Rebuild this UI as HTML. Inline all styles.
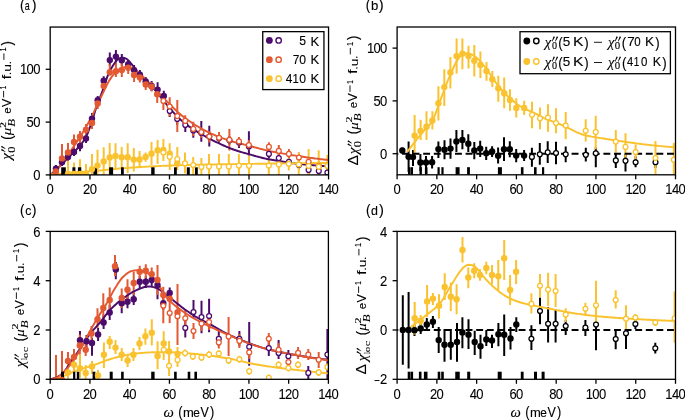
<!DOCTYPE html><html><head><meta charset="utf-8"><style>html,body{margin:0;padding:0;background:#fff;overflow:hidden}svg{display:block}#w{width:685px;height:420px}svg{will-change:transform}</style></head><body>
<div id="w">
<svg width="685" height="420" viewBox="0 0 685 420" font-family="Liberation Sans, sans-serif" fill="#000">
<defs>
<clipPath id="clipa"><rect x="50.20" y="27.05" width="278.35" height="147.85"/></clipPath>
<clipPath id="clipb"><rect x="397.10" y="27.00" width="278.40" height="147.80"/></clipPath>
<clipPath id="clipc"><rect x="50.20" y="231.40" width="278.20" height="147.90"/></clipPath>
<clipPath id="clipd"><rect x="397.10" y="231.40" width="278.40" height="147.90"/></clipPath>
</defs>
<line x1="50.20" y1="174.90" x2="50.20" y2="179.40" stroke="#000" stroke-width="1.3"/>
<text transform="translate(46.58,194.10) scale(0.930,1)" font-size="14.0" stroke="#000" stroke-width="0.1">0</text>
<line x1="89.96" y1="174.90" x2="89.96" y2="179.40" stroke="#000" stroke-width="1.3"/>
<text transform="translate(83.04,194.10) scale(0.930,1)" font-size="14.0" stroke="#000" stroke-width="0.1">2</text><text transform="translate(89.64,194.10) scale(0.930,1)" font-size="14.0" stroke="#000" stroke-width="0.1">0</text>
<line x1="129.73" y1="174.90" x2="129.73" y2="179.40" stroke="#000" stroke-width="1.3"/>
<text transform="translate(122.81,194.10) scale(0.930,1)" font-size="14.0" stroke="#000" stroke-width="0.1">4</text><text transform="translate(129.41,194.10) scale(0.930,1)" font-size="14.0" stroke="#000" stroke-width="0.1">0</text>
<line x1="169.49" y1="174.90" x2="169.49" y2="179.40" stroke="#000" stroke-width="1.3"/>
<text transform="translate(162.57,194.10) scale(0.930,1)" font-size="14.0" stroke="#000" stroke-width="0.1">6</text><text transform="translate(169.17,194.10) scale(0.930,1)" font-size="14.0" stroke="#000" stroke-width="0.1">0</text>
<line x1="209.26" y1="174.90" x2="209.26" y2="179.40" stroke="#000" stroke-width="1.3"/>
<text transform="translate(202.34,194.10) scale(0.930,1)" font-size="14.0" stroke="#000" stroke-width="0.1">8</text><text transform="translate(208.94,194.10) scale(0.930,1)" font-size="14.0" stroke="#000" stroke-width="0.1">0</text>
<line x1="249.02" y1="174.90" x2="249.02" y2="179.40" stroke="#000" stroke-width="1.3"/>
<text transform="translate(238.80,194.10) scale(0.930,1)" font-size="14.0" stroke="#000" stroke-width="0.1">1</text><text transform="translate(245.40,194.10) scale(0.930,1)" font-size="14.0" stroke="#000" stroke-width="0.1">0</text><text transform="translate(252.00,194.10) scale(0.930,1)" font-size="14.0" stroke="#000" stroke-width="0.1">0</text>
<line x1="288.79" y1="174.90" x2="288.79" y2="179.40" stroke="#000" stroke-width="1.3"/>
<text transform="translate(278.57,194.10) scale(0.930,1)" font-size="14.0" stroke="#000" stroke-width="0.1">1</text><text transform="translate(285.17,194.10) scale(0.930,1)" font-size="14.0" stroke="#000" stroke-width="0.1">2</text><text transform="translate(291.77,194.10) scale(0.930,1)" font-size="14.0" stroke="#000" stroke-width="0.1">0</text>
<line x1="328.55" y1="174.90" x2="328.55" y2="179.40" stroke="#000" stroke-width="1.3"/>
<text transform="translate(318.33,194.10) scale(0.930,1)" font-size="14.0" stroke="#000" stroke-width="0.1">1</text><text transform="translate(324.93,194.10) scale(0.930,1)" font-size="14.0" stroke="#000" stroke-width="0.1">4</text><text transform="translate(331.53,194.10) scale(0.930,1)" font-size="14.0" stroke="#000" stroke-width="0.1">0</text>
<line x1="45.70" y1="174.90" x2="50.20" y2="174.90" stroke="#000" stroke-width="1.3"/>
<text transform="translate(33.18,180.05) scale(0.930,1)" font-size="14.0" stroke="#000" stroke-width="0.1">0</text>
<line x1="45.70" y1="122.10" x2="50.20" y2="122.10" stroke="#000" stroke-width="1.3"/>
<text transform="translate(26.58,127.25) scale(0.930,1)" font-size="14.0" stroke="#000" stroke-width="0.1">5</text><text transform="translate(33.18,127.25) scale(0.930,1)" font-size="14.0" stroke="#000" stroke-width="0.1">0</text>
<line x1="45.70" y1="69.29" x2="50.20" y2="69.29" stroke="#000" stroke-width="1.3"/>
<text transform="translate(19.98,74.44) scale(0.930,1)" font-size="14.0" stroke="#000" stroke-width="0.1">1</text><text transform="translate(26.58,74.44) scale(0.930,1)" font-size="14.0" stroke="#000" stroke-width="0.1">0</text><text transform="translate(33.18,74.44) scale(0.930,1)" font-size="14.0" stroke="#000" stroke-width="0.1">0</text>
<line x1="397.10" y1="174.80" x2="397.10" y2="179.30" stroke="#000" stroke-width="1.3"/>
<text transform="translate(393.48,194.00) scale(0.930,1)" font-size="14.0" stroke="#000" stroke-width="0.1">0</text>
<line x1="436.87" y1="174.80" x2="436.87" y2="179.30" stroke="#000" stroke-width="1.3"/>
<text transform="translate(429.95,194.00) scale(0.930,1)" font-size="14.0" stroke="#000" stroke-width="0.1">2</text><text transform="translate(436.55,194.00) scale(0.930,1)" font-size="14.0" stroke="#000" stroke-width="0.1">0</text>
<line x1="476.64" y1="174.80" x2="476.64" y2="179.30" stroke="#000" stroke-width="1.3"/>
<text transform="translate(469.72,194.00) scale(0.930,1)" font-size="14.0" stroke="#000" stroke-width="0.1">4</text><text transform="translate(476.32,194.00) scale(0.930,1)" font-size="14.0" stroke="#000" stroke-width="0.1">0</text>
<line x1="516.41" y1="174.80" x2="516.41" y2="179.30" stroke="#000" stroke-width="1.3"/>
<text transform="translate(509.49,194.00) scale(0.930,1)" font-size="14.0" stroke="#000" stroke-width="0.1">6</text><text transform="translate(516.09,194.00) scale(0.930,1)" font-size="14.0" stroke="#000" stroke-width="0.1">0</text>
<line x1="556.19" y1="174.80" x2="556.19" y2="179.30" stroke="#000" stroke-width="1.3"/>
<text transform="translate(549.27,194.00) scale(0.930,1)" font-size="14.0" stroke="#000" stroke-width="0.1">8</text><text transform="translate(555.87,194.00) scale(0.930,1)" font-size="14.0" stroke="#000" stroke-width="0.1">0</text>
<line x1="595.96" y1="174.80" x2="595.96" y2="179.30" stroke="#000" stroke-width="1.3"/>
<text transform="translate(585.74,194.00) scale(0.930,1)" font-size="14.0" stroke="#000" stroke-width="0.1">1</text><text transform="translate(592.34,194.00) scale(0.930,1)" font-size="14.0" stroke="#000" stroke-width="0.1">0</text><text transform="translate(598.94,194.00) scale(0.930,1)" font-size="14.0" stroke="#000" stroke-width="0.1">0</text>
<line x1="635.73" y1="174.80" x2="635.73" y2="179.30" stroke="#000" stroke-width="1.3"/>
<text transform="translate(625.51,194.00) scale(0.930,1)" font-size="14.0" stroke="#000" stroke-width="0.1">1</text><text transform="translate(632.11,194.00) scale(0.930,1)" font-size="14.0" stroke="#000" stroke-width="0.1">2</text><text transform="translate(638.71,194.00) scale(0.930,1)" font-size="14.0" stroke="#000" stroke-width="0.1">0</text>
<line x1="675.50" y1="174.80" x2="675.50" y2="179.30" stroke="#000" stroke-width="1.3"/>
<text transform="translate(665.28,194.00) scale(0.930,1)" font-size="14.0" stroke="#000" stroke-width="0.1">1</text><text transform="translate(671.88,194.00) scale(0.930,1)" font-size="14.0" stroke="#000" stroke-width="0.1">4</text><text transform="translate(678.48,194.00) scale(0.930,1)" font-size="14.0" stroke="#000" stroke-width="0.1">0</text>
<line x1="392.60" y1="153.69" x2="397.10" y2="153.69" stroke="#000" stroke-width="1.3"/>
<text transform="translate(380.08,158.84) scale(0.930,1)" font-size="14.0" stroke="#000" stroke-width="0.1">0</text>
<line x1="392.60" y1="100.90" x2="397.10" y2="100.90" stroke="#000" stroke-width="1.3"/>
<text transform="translate(373.48,106.05) scale(0.930,1)" font-size="14.0" stroke="#000" stroke-width="0.1">5</text><text transform="translate(380.08,106.05) scale(0.930,1)" font-size="14.0" stroke="#000" stroke-width="0.1">0</text>
<line x1="392.60" y1="48.11" x2="397.10" y2="48.11" stroke="#000" stroke-width="1.3"/>
<text transform="translate(366.88,53.26) scale(0.930,1)" font-size="14.0" stroke="#000" stroke-width="0.1">1</text><text transform="translate(373.48,53.26) scale(0.930,1)" font-size="14.0" stroke="#000" stroke-width="0.1">0</text><text transform="translate(380.08,53.26) scale(0.930,1)" font-size="14.0" stroke="#000" stroke-width="0.1">0</text>
<line x1="50.20" y1="379.30" x2="50.20" y2="383.80" stroke="#000" stroke-width="1.3"/>
<text transform="translate(46.58,398.50) scale(0.930,1)" font-size="14.0" stroke="#000" stroke-width="0.1">0</text>
<line x1="89.94" y1="379.30" x2="89.94" y2="383.80" stroke="#000" stroke-width="1.3"/>
<text transform="translate(83.02,398.50) scale(0.930,1)" font-size="14.0" stroke="#000" stroke-width="0.1">2</text><text transform="translate(89.62,398.50) scale(0.930,1)" font-size="14.0" stroke="#000" stroke-width="0.1">0</text>
<line x1="129.69" y1="379.30" x2="129.69" y2="383.80" stroke="#000" stroke-width="1.3"/>
<text transform="translate(122.77,398.50) scale(0.930,1)" font-size="14.0" stroke="#000" stroke-width="0.1">4</text><text transform="translate(129.37,398.50) scale(0.930,1)" font-size="14.0" stroke="#000" stroke-width="0.1">0</text>
<line x1="169.43" y1="379.30" x2="169.43" y2="383.80" stroke="#000" stroke-width="1.3"/>
<text transform="translate(162.51,398.50) scale(0.930,1)" font-size="14.0" stroke="#000" stroke-width="0.1">6</text><text transform="translate(169.11,398.50) scale(0.930,1)" font-size="14.0" stroke="#000" stroke-width="0.1">0</text>
<line x1="209.17" y1="379.30" x2="209.17" y2="383.80" stroke="#000" stroke-width="1.3"/>
<text transform="translate(202.25,398.50) scale(0.930,1)" font-size="14.0" stroke="#000" stroke-width="0.1">8</text><text transform="translate(208.85,398.50) scale(0.930,1)" font-size="14.0" stroke="#000" stroke-width="0.1">0</text>
<line x1="248.91" y1="379.30" x2="248.91" y2="383.80" stroke="#000" stroke-width="1.3"/>
<text transform="translate(238.69,398.50) scale(0.930,1)" font-size="14.0" stroke="#000" stroke-width="0.1">1</text><text transform="translate(245.29,398.50) scale(0.930,1)" font-size="14.0" stroke="#000" stroke-width="0.1">0</text><text transform="translate(251.89,398.50) scale(0.930,1)" font-size="14.0" stroke="#000" stroke-width="0.1">0</text>
<line x1="288.66" y1="379.30" x2="288.66" y2="383.80" stroke="#000" stroke-width="1.3"/>
<text transform="translate(278.44,398.50) scale(0.930,1)" font-size="14.0" stroke="#000" stroke-width="0.1">1</text><text transform="translate(285.04,398.50) scale(0.930,1)" font-size="14.0" stroke="#000" stroke-width="0.1">2</text><text transform="translate(291.64,398.50) scale(0.930,1)" font-size="14.0" stroke="#000" stroke-width="0.1">0</text>
<line x1="328.40" y1="379.30" x2="328.40" y2="383.80" stroke="#000" stroke-width="1.3"/>
<text transform="translate(318.18,398.50) scale(0.930,1)" font-size="14.0" stroke="#000" stroke-width="0.1">1</text><text transform="translate(324.78,398.50) scale(0.930,1)" font-size="14.0" stroke="#000" stroke-width="0.1">4</text><text transform="translate(331.38,398.50) scale(0.930,1)" font-size="14.0" stroke="#000" stroke-width="0.1">0</text>
<line x1="45.70" y1="379.30" x2="50.20" y2="379.30" stroke="#000" stroke-width="1.3"/>
<text transform="translate(33.18,384.45) scale(0.930,1)" font-size="14.0" stroke="#000" stroke-width="0.1">0</text>
<line x1="45.70" y1="330.00" x2="50.20" y2="330.00" stroke="#000" stroke-width="1.3"/>
<text transform="translate(33.18,335.15) scale(0.930,1)" font-size="14.0" stroke="#000" stroke-width="0.1">2</text>
<line x1="45.70" y1="280.70" x2="50.20" y2="280.70" stroke="#000" stroke-width="1.3"/>
<text transform="translate(33.18,285.85) scale(0.930,1)" font-size="14.0" stroke="#000" stroke-width="0.1">4</text>
<line x1="45.70" y1="231.40" x2="50.20" y2="231.40" stroke="#000" stroke-width="1.3"/>
<text transform="translate(33.18,236.55) scale(0.930,1)" font-size="14.0" stroke="#000" stroke-width="0.1">6</text>
<line x1="397.10" y1="379.30" x2="397.10" y2="383.80" stroke="#000" stroke-width="1.3"/>
<text transform="translate(393.48,398.50) scale(0.930,1)" font-size="14.0" stroke="#000" stroke-width="0.1">0</text>
<line x1="436.87" y1="379.30" x2="436.87" y2="383.80" stroke="#000" stroke-width="1.3"/>
<text transform="translate(429.95,398.50) scale(0.930,1)" font-size="14.0" stroke="#000" stroke-width="0.1">2</text><text transform="translate(436.55,398.50) scale(0.930,1)" font-size="14.0" stroke="#000" stroke-width="0.1">0</text>
<line x1="476.64" y1="379.30" x2="476.64" y2="383.80" stroke="#000" stroke-width="1.3"/>
<text transform="translate(469.72,398.50) scale(0.930,1)" font-size="14.0" stroke="#000" stroke-width="0.1">4</text><text transform="translate(476.32,398.50) scale(0.930,1)" font-size="14.0" stroke="#000" stroke-width="0.1">0</text>
<line x1="516.41" y1="379.30" x2="516.41" y2="383.80" stroke="#000" stroke-width="1.3"/>
<text transform="translate(509.49,398.50) scale(0.930,1)" font-size="14.0" stroke="#000" stroke-width="0.1">6</text><text transform="translate(516.09,398.50) scale(0.930,1)" font-size="14.0" stroke="#000" stroke-width="0.1">0</text>
<line x1="556.19" y1="379.30" x2="556.19" y2="383.80" stroke="#000" stroke-width="1.3"/>
<text transform="translate(549.27,398.50) scale(0.930,1)" font-size="14.0" stroke="#000" stroke-width="0.1">8</text><text transform="translate(555.87,398.50) scale(0.930,1)" font-size="14.0" stroke="#000" stroke-width="0.1">0</text>
<line x1="595.96" y1="379.30" x2="595.96" y2="383.80" stroke="#000" stroke-width="1.3"/>
<text transform="translate(585.74,398.50) scale(0.930,1)" font-size="14.0" stroke="#000" stroke-width="0.1">1</text><text transform="translate(592.34,398.50) scale(0.930,1)" font-size="14.0" stroke="#000" stroke-width="0.1">0</text><text transform="translate(598.94,398.50) scale(0.930,1)" font-size="14.0" stroke="#000" stroke-width="0.1">0</text>
<line x1="635.73" y1="379.30" x2="635.73" y2="383.80" stroke="#000" stroke-width="1.3"/>
<text transform="translate(625.51,398.50) scale(0.930,1)" font-size="14.0" stroke="#000" stroke-width="0.1">1</text><text transform="translate(632.11,398.50) scale(0.930,1)" font-size="14.0" stroke="#000" stroke-width="0.1">2</text><text transform="translate(638.71,398.50) scale(0.930,1)" font-size="14.0" stroke="#000" stroke-width="0.1">0</text>
<line x1="675.50" y1="379.30" x2="675.50" y2="383.80" stroke="#000" stroke-width="1.3"/>
<text transform="translate(665.28,398.50) scale(0.930,1)" font-size="14.0" stroke="#000" stroke-width="0.1">1</text><text transform="translate(671.88,398.50) scale(0.930,1)" font-size="14.0" stroke="#000" stroke-width="0.1">4</text><text transform="translate(678.48,398.50) scale(0.930,1)" font-size="14.0" stroke="#000" stroke-width="0.1">0</text>
<line x1="392.60" y1="379.30" x2="397.10" y2="379.30" stroke="#000" stroke-width="1.3"/>
<path d="M374.50,380.55H379.50" stroke="#000" stroke-width="0.95"/><text transform="translate(380.08,384.45) scale(0.930,1)" font-size="14.0" stroke="#000" stroke-width="0.1">2</text>
<line x1="392.60" y1="330.00" x2="397.10" y2="330.00" stroke="#000" stroke-width="1.3"/>
<text transform="translate(380.08,335.15) scale(0.930,1)" font-size="14.0" stroke="#000" stroke-width="0.1">0</text>
<line x1="392.60" y1="280.70" x2="397.10" y2="280.70" stroke="#000" stroke-width="1.3"/>
<text transform="translate(380.08,285.85) scale(0.930,1)" font-size="14.0" stroke="#000" stroke-width="0.1">2</text>
<line x1="392.60" y1="231.40" x2="397.10" y2="231.40" stroke="#000" stroke-width="1.3"/>
<text transform="translate(380.08,236.55) scale(0.930,1)" font-size="14.0" stroke="#000" stroke-width="0.1">4</text>
<g clip-path="url(#clipa)">
<path d="M55.90,165.00V172.00M62.00,158.00V166.00M68.00,153.00V161.00M74.00,148.00V156.00M80.00,142.50V151.30M86.00,134.00V143.00M92.00,113.00V124.00M97.70,96.00V105.00M103.70,76.30V85.00M109.80,52.60V65.90M115.90,49.90V62.50M121.80,54.10V66.00M128.20,60.00V69.00M134.10,65.00V75.00M139.90,70.00V79.00M145.70,77.00V86.00M151.60,81.00V91.00M157.60,82.20V95.00M163.80,90.80V101.00M169.70,105.00V117.00M177.20,113.00V125.00M185.30,120.00V132.00M193.30,124.00V137.70M201.30,120.90V141.80M209.30,125.70V146.60M219.00,134.00V142.50M229.40,136.00V144.50M239.00,139.40V148.00M248.90,131.20V155.50M268.90,150.00V158.00M278.80,154.00V162.00M288.90,158.00V166.00M298.90,161.00V169.00M308.60,166.00V174.00M318.80,167.00V175.00M327.40,169.00V175.00" stroke="#4b0c6b" stroke-width="2.0" fill="none"/>
<path d="M55.90,168.00V175.00M62.00,144.00V164.70M68.00,142.90V159.10M74.00,134.50V148.50M80.00,131.10V143.40M86.00,124.00V136.00M92.00,117.00V129.00M97.70,98.00V109.00M103.70,80.00V91.00M109.80,64.30V75.40M115.90,62.50V77.10M121.80,63.00V77.00M128.20,61.00V74.00M134.10,70.00V82.00M139.90,72.50V82.50M145.70,79.00V90.00M151.60,82.00V91.50M157.20,89.00V103.00M163.40,95.00V110.00M169.70,97.20V116.50M177.30,100.00V132.00M185.20,115.30V126.50M193.30,121.70V136.00M201.30,128.00V137.70M209.30,131.30V142.50M219.00,132.00V142.50M229.40,128.90V150.60M239.00,137.00V146.60M248.90,140.00V150.00M268.90,142.30V151.50M278.80,145.00V156.00M288.90,149.00V158.50M298.90,152.50V162.50M308.60,157.00V166.60M318.80,161.00V171.50" stroke="#e35932" stroke-width="2.0" fill="none"/>
<path d="M68.00,160.40V176.00M74.00,162.50V176.00M80.00,159.30V176.00M86.00,164.00V176.00M92.00,154.00V174.90M97.50,149.80V174.90M103.70,147.30V174.90M109.70,143.00V174.00M115.50,143.30V170.00M121.70,147.00V168.00M127.70,143.30V172.90M133.80,147.90V171.50M139.60,151.00V167.00M145.60,152.50V161.70M151.50,142.00V165.00M157.60,140.00V164.00M163.40,139.00V161.00M169.70,143.30V170.00M177.20,157.00V168.00M163.40,139.00V161.00M169.70,143.30V170.00M177.30,147.00V170.00M185.00,152.50V173.50M193.20,157.00V174.90M201.40,158.00V174.90M209.00,154.00V174.90M219.00,154.00V174.90M228.80,154.00V174.90M238.90,154.00V174.90M249.00,155.50V174.90M268.80,158.00V174.90M278.80,158.00V174.90M288.80,158.00V170.60M298.80,152.80V174.90M308.60,148.90V174.90M318.70,150.20V174.90M327.40,155.00V174.90" stroke="#f9c22e" stroke-width="2.0" fill="none"/>
<path d="M50.20,174.90 L51.70,173.72 L53.19,172.48 L54.69,171.18 L56.18,169.83 L57.68,168.40 L59.17,166.89 L60.67,165.35 L62.16,163.84 L63.66,162.34 L65.15,160.85 L66.65,159.35 L68.14,157.86 L69.64,156.38 L71.13,154.90 L72.63,153.41 L74.12,151.87 L75.62,150.33 L77.11,148.77 L78.61,147.14 L80.10,145.37 L81.60,143.53 L83.09,141.59 L84.59,139.41 L86.08,136.84 L87.58,133.56 L89.07,129.57 L90.57,125.22 L92.06,120.81 L93.56,116.16 L95.05,111.20 L96.55,106.36 L98.05,102.08 L99.54,98.46 L101.04,94.93 L102.53,90.89 L104.03,86.42 L105.52,81.87 L107.02,77.60 L108.51,73.96 L110.01,70.84 L111.50,68.00 L113.00,65.49 L114.49,63.29 L115.99,61.26 L117.48,59.66 L118.98,58.74 L120.47,58.01 L121.97,57.62 L123.46,57.72 L124.96,58.18 L126.45,58.83 L127.95,60.00 L129.44,61.63 L130.94,63.42 L132.43,65.16 L133.93,67.05 L135.42,69.05 L136.92,71.03 L138.41,72.92 L139.91,74.78 L141.40,76.61 L142.90,78.35 L144.40,79.97 L145.89,81.49 L147.39,82.96 L148.88,84.40 L150.38,85.78 L151.87,87.08 L153.37,88.40 L154.86,89.85 L156.36,91.53 L157.85,93.41 L159.35,95.37 L160.84,97.32 L162.34,99.18 L163.83,101.04 L165.33,102.90 L166.82,104.75 L168.32,106.57 L169.81,108.36 L171.31,110.09 L172.80,111.76 L174.30,113.35 L175.79,114.92 L177.29,116.46 L178.78,117.95 L180.28,119.39 L181.77,120.78 L183.27,122.09 L184.76,123.31 L186.26,124.47 L187.75,125.57 L189.25,126.63 L190.75,127.64 L192.24,128.63 L193.74,129.58 L195.23,130.50 L196.73,131.41 L198.22,132.30 L199.72,133.17 L201.21,134.04 L202.71,134.91 L204.20,135.76 L205.70,136.60 L207.19,137.42 L208.69,138.22 L210.18,139.01 L211.68,139.79 L213.17,140.55 L214.67,141.30 L216.16,142.03 L217.66,142.74 L219.15,143.45 L220.65,144.14 L222.14,144.83 L223.64,145.51 L225.13,146.17 L226.63,146.82 L228.12,147.46 L229.62,148.07 L231.11,148.66 L232.61,149.23 L234.10,149.77 L235.60,150.28 L237.10,150.77 L238.59,151.25 L240.09,151.70 L241.58,152.15 L243.08,152.58 L244.57,153.01 L246.07,153.42 L247.56,153.84 L249.06,154.25 L250.55,154.67 L252.05,155.09 L253.54,155.51 L255.04,155.94 L256.53,156.35 L258.03,156.77 L259.52,157.17 L261.02,157.56 L262.51,157.94 L264.01,158.29 L265.50,158.63 L267.00,158.94 L268.49,159.24 L269.99,159.52 L271.48,159.79 L272.98,160.04 L274.47,160.29 L275.97,160.54 L277.46,160.78 L278.96,161.03 L280.45,161.28 L281.95,161.53 L283.45,161.78 L284.94,162.04 L286.44,162.29 L287.93,162.53 L289.43,162.76 L290.92,162.98 L292.42,163.18 L293.91,163.36 L295.41,163.54 L296.90,163.70 L298.40,163.86 L299.89,164.02 L301.39,164.17 L302.88,164.31 L304.38,164.45 L305.87,164.59 L307.37,164.72 L308.86,164.85 L310.36,164.98 L311.85,165.10 L313.35,165.23 L314.84,165.35 L316.34,165.47 L317.83,165.58 L319.33,165.69 L320.82,165.80 L322.32,165.91 L323.81,166.01 L325.31,166.11 L326.80,166.21 L328.30,166.30" fill="none" stroke="#4b0c6b" stroke-width="1.95"/>
<path d="M50.20,174.90 L51.70,174.23 L53.19,173.28 L54.69,172.13 L56.18,170.83 L57.68,169.15 L59.17,167.08 L60.67,164.88 L62.16,162.79 L63.66,160.82 L65.15,158.86 L66.65,156.87 L68.14,154.80 L69.64,152.62 L71.13,150.36 L72.63,148.08 L74.12,145.82 L75.62,143.60 L77.11,141.39 L78.61,139.15 L80.10,136.84 L81.60,134.44 L83.09,131.97 L84.59,129.44 L86.08,126.85 L87.58,124.22 L89.07,121.53 L90.57,118.75 L92.06,115.87 L93.56,112.83 L95.05,109.66 L96.55,106.44 L98.05,103.28 L99.54,100.15 L101.04,97.03 L102.53,93.94 L104.03,90.77 L105.52,87.57 L107.02,84.52 L108.51,81.81 L110.01,79.38 L111.50,77.13 L113.00,75.14 L114.49,73.48 L115.99,71.99 L117.48,70.66 L118.98,69.57 L120.47,68.77 L121.97,68.07 L123.46,67.48 L124.96,67.09 L126.45,67.01 L127.95,67.13 L129.44,67.39 L130.94,67.73 L132.43,68.14 L133.93,68.89 L135.42,69.94 L136.92,71.14 L138.41,72.33 L139.91,73.61 L141.40,75.00 L142.90,76.44 L144.40,77.88 L145.89,79.34 L147.39,80.82 L148.88,82.34 L150.38,83.89 L151.87,85.49 L153.37,87.12 L154.86,88.76 L156.36,90.39 L157.85,92.02 L159.35,93.66 L160.84,95.28 L162.34,96.85 L163.83,98.39 L165.33,99.90 L166.82,101.38 L168.32,102.86 L169.81,104.32 L171.31,105.78 L172.80,107.26 L174.30,108.74 L175.79,110.19 L177.29,111.60 L178.78,112.95 L180.28,114.23 L181.77,115.45 L183.27,116.63 L184.76,117.77 L186.26,118.87 L187.75,119.94 L189.25,120.99 L190.75,122.01 L192.24,123.01 L193.74,123.99 L195.23,124.95 L196.73,125.88 L198.22,126.79 L199.72,127.67 L201.21,128.51 L202.71,129.33 L204.20,130.12 L205.70,130.89 L207.19,131.65 L208.69,132.38 L210.18,133.10 L211.68,133.80 L213.17,134.47 L214.67,135.12 L216.16,135.76 L217.66,136.36 L219.15,136.95 L220.65,137.52 L222.14,138.07 L223.64,138.61 L225.13,139.13 L226.63,139.64 L228.12,140.13 L229.62,140.61 L231.11,141.08 L232.61,141.53 L234.10,141.97 L235.60,142.40 L237.10,142.80 L238.59,143.19 L240.09,143.57 L241.58,143.94 L243.08,144.30 L244.57,144.66 L246.07,145.02 L247.56,145.39 L249.06,145.76 L250.55,146.14 L252.05,146.54 L253.54,146.95 L255.04,147.36 L256.53,147.77 L258.03,148.18 L259.52,148.59 L261.02,148.99 L262.51,149.38 L264.01,149.76 L265.50,150.12 L267.00,150.46 L268.49,150.78 L269.99,151.09 L271.48,151.39 L272.98,151.68 L274.47,151.97 L275.97,152.25 L277.46,152.53 L278.96,152.81 L280.45,153.08 L281.95,153.36 L283.45,153.63 L284.94,153.90 L286.44,154.16 L287.93,154.42 L289.43,154.67 L290.92,154.93 L292.42,155.17 L293.91,155.41 L295.41,155.65 L296.90,155.89 L298.40,156.12 L299.89,156.35 L301.39,156.57 L302.88,156.80 L304.38,157.02 L305.87,157.23 L307.37,157.44 L308.86,157.65 L310.36,157.85 L311.85,158.04 L313.35,158.24 L314.84,158.43 L316.34,158.62 L317.83,158.80 L319.33,158.99 L320.82,159.16 L322.32,159.34 L323.81,159.51 L325.31,159.68 L326.80,159.84 L328.30,160.00" fill="none" stroke="#e35932" stroke-width="1.95"/>
<path d="M50.20,174.90 L51.70,174.74 L53.19,174.59 L54.69,174.43 L56.18,174.28 L57.68,174.13 L59.17,173.98 L60.67,173.83 L62.16,173.68 L63.66,173.53 L65.15,173.39 L66.65,173.24 L68.14,173.09 L69.64,172.95 L71.13,172.80 L72.63,172.66 L74.12,172.52 L75.62,172.38 L77.11,172.25 L78.61,172.12 L80.10,171.99 L81.60,171.87 L83.09,171.75 L84.59,171.64 L86.08,171.53 L87.58,171.43 L89.07,171.32 L90.57,171.22 L92.06,171.11 L93.56,171.00 L95.05,170.89 L96.55,170.78 L98.05,170.66 L99.54,170.54 L101.04,170.41 L102.53,170.27 L104.03,170.12 L105.52,169.97 L107.02,169.81 L108.51,169.65 L110.01,169.49 L111.50,169.33 L113.00,169.17 L114.49,169.01 L115.99,168.86 L117.48,168.72 L118.98,168.59 L120.47,168.46 L121.97,168.34 L123.46,168.23 L124.96,168.11 L126.45,168.00 L127.95,167.89 L129.44,167.78 L130.94,167.67 L132.43,167.57 L133.93,167.46 L135.42,167.36 L136.92,167.27 L138.41,167.17 L139.91,167.08 L141.40,166.99 L142.90,166.90 L144.40,166.81 L145.89,166.72 L147.39,166.64 L148.88,166.56 L150.38,166.48 L151.87,166.40 L153.37,166.33 L154.86,166.25 L156.36,166.17 L157.85,166.10 L159.35,166.03 L160.84,165.96 L162.34,165.89 L163.83,165.82 L165.33,165.75 L166.82,165.69 L168.32,165.62 L169.81,165.56 L171.31,165.50 L172.80,165.45 L174.30,165.39 L175.79,165.34 L177.29,165.29 L178.78,165.24 L180.28,165.19 L181.77,165.15 L183.27,165.10 L184.76,165.06 L186.26,165.02 L187.75,164.98 L189.25,164.94 L190.75,164.91 L192.24,164.87 L193.74,164.83 L195.23,164.80 L196.73,164.77 L198.22,164.73 L199.72,164.70 L201.21,164.67 L202.71,164.64 L204.20,164.61 L205.70,164.58 L207.19,164.55 L208.69,164.52 L210.18,164.50 L211.68,164.47 L213.17,164.44 L214.67,164.42 L216.16,164.39 L217.66,164.37 L219.15,164.34 L220.65,164.32 L222.14,164.30 L223.64,164.27 L225.13,164.25 L226.63,164.23 L228.12,164.21 L229.62,164.19 L231.11,164.17 L232.61,164.15 L234.10,164.13 L235.60,164.10 L237.10,164.08 L238.59,164.06 L240.09,164.04 L241.58,164.02 L243.08,164.00 L244.57,163.98 L246.07,163.96 L247.56,163.94 L249.06,163.91 L250.55,163.89 L252.05,163.87 L253.54,163.85 L255.04,163.82 L256.53,163.80 L258.03,163.78 L259.52,163.75 L261.02,163.73 L262.51,163.71 L264.01,163.68 L265.50,163.66 L267.00,163.63 L268.49,163.61 L269.99,163.59 L271.48,163.56 L272.98,163.54 L274.47,163.52 L275.97,163.49 L277.46,163.47 L278.96,163.45 L280.45,163.43 L281.95,163.41 L283.45,163.39 L284.94,163.37 L286.44,163.35 L287.93,163.33 L289.43,163.31 L290.92,163.29 L292.42,163.27 L293.91,163.25 L295.41,163.23 L296.90,163.22 L298.40,163.20 L299.89,163.18 L301.39,163.17 L302.88,163.15 L304.38,163.13 L305.87,163.12 L307.37,163.10 L308.86,163.08 L310.36,163.07 L311.85,163.05 L313.35,163.04 L314.84,163.02 L316.34,163.01 L317.83,162.99 L319.33,162.98 L320.82,162.97 L322.32,162.95 L323.81,162.94 L325.31,162.93 L326.80,162.91 L328.30,162.90" fill="none" stroke="#f9c22e" stroke-width="1.95"/>
<rect x="61.20" y="167.30" width="4.6" height="7.6" fill="#000"/>
<rect x="72.40" y="167.30" width="3.0" height="7.6" fill="#000"/>
<rect x="77.90" y="167.30" width="3.4" height="7.6" fill="#000"/>
<rect x="93.40" y="167.30" width="3.6" height="7.6" fill="#000"/>
<rect x="109.10" y="167.30" width="4.0" height="7.6" fill="#000"/>
<rect x="121.00" y="167.30" width="2.8" height="7.6" fill="#000"/>
<rect x="151.20" y="167.30" width="3.4" height="7.6" fill="#000"/>
<rect x="174.00" y="167.30" width="2.8" height="7.6" fill="#000"/>
<rect x="186.80" y="167.30" width="3.0" height="7.6" fill="#000"/>
<rect x="195.00" y="167.30" width="2.8" height="7.6" fill="#000"/>
<circle cx="55.90" cy="168.80" r="3.2" fill="#4b0c6b"/>
<circle cx="62.00" cy="162.30" r="3.2" fill="#4b0c6b"/>
<circle cx="68.00" cy="157.00" r="3.2" fill="#4b0c6b"/>
<circle cx="74.00" cy="152.00" r="3.2" fill="#4b0c6b"/>
<circle cx="80.00" cy="146.00" r="3.2" fill="#4b0c6b"/>
<circle cx="86.00" cy="138.50" r="3.2" fill="#4b0c6b"/>
<circle cx="92.00" cy="118.60" r="3.2" fill="#4b0c6b"/>
<circle cx="97.70" cy="100.30" r="3.2" fill="#4b0c6b"/>
<circle cx="103.70" cy="80.70" r="3.2" fill="#4b0c6b"/>
<circle cx="109.80" cy="60.10" r="3.2" fill="#4b0c6b"/>
<circle cx="115.90" cy="56.60" r="3.2" fill="#4b0c6b"/>
<circle cx="121.80" cy="60.20" r="3.2" fill="#4b0c6b"/>
<circle cx="128.20" cy="64.30" r="3.2" fill="#4b0c6b"/>
<circle cx="134.10" cy="70.10" r="3.2" fill="#4b0c6b"/>
<circle cx="139.90" cy="74.80" r="3.2" fill="#4b0c6b"/>
<circle cx="145.70" cy="81.50" r="3.2" fill="#4b0c6b"/>
<circle cx="151.60" cy="86.00" r="3.2" fill="#4b0c6b"/>
<circle cx="157.60" cy="89.60" r="3.2" fill="#4b0c6b"/>
<circle cx="163.80" cy="96.00" r="3.2" fill="#4b0c6b"/>
<circle cx="169.70" cy="111.00" r="2.45" fill="#fff" stroke="#4b0c6b" stroke-width="1.25"/>
<circle cx="177.20" cy="119.00" r="2.45" fill="#fff" stroke="#4b0c6b" stroke-width="1.25"/>
<circle cx="185.30" cy="124.90" r="2.45" fill="#fff" stroke="#4b0c6b" stroke-width="1.25"/>
<circle cx="193.30" cy="130.50" r="2.45" fill="#fff" stroke="#4b0c6b" stroke-width="1.25"/>
<circle cx="201.30" cy="132.90" r="2.45" fill="#fff" stroke="#4b0c6b" stroke-width="1.25"/>
<circle cx="209.30" cy="136.50" r="2.45" fill="#fff" stroke="#4b0c6b" stroke-width="1.25"/>
<circle cx="219.00" cy="138.20" r="2.45" fill="#fff" stroke="#4b0c6b" stroke-width="1.25"/>
<circle cx="229.40" cy="140.20" r="2.45" fill="#fff" stroke="#4b0c6b" stroke-width="1.25"/>
<circle cx="239.00" cy="142.60" r="2.45" fill="#fff" stroke="#4b0c6b" stroke-width="1.25"/>
<circle cx="248.90" cy="146.50" r="2.45" fill="#fff" stroke="#4b0c6b" stroke-width="1.25"/>
<circle cx="268.90" cy="153.90" r="2.45" fill="#fff" stroke="#4b0c6b" stroke-width="1.25"/>
<circle cx="278.80" cy="158.10" r="2.45" fill="#fff" stroke="#4b0c6b" stroke-width="1.25"/>
<circle cx="288.90" cy="161.80" r="2.45" fill="#fff" stroke="#4b0c6b" stroke-width="1.25"/>
<circle cx="298.90" cy="165.00" r="2.45" fill="#fff" stroke="#4b0c6b" stroke-width="1.25"/>
<circle cx="308.60" cy="169.90" r="2.45" fill="#fff" stroke="#4b0c6b" stroke-width="1.25"/>
<circle cx="318.80" cy="171.00" r="2.45" fill="#fff" stroke="#4b0c6b" stroke-width="1.25"/>
<circle cx="327.40" cy="172.60" r="2.45" fill="#fff" stroke="#4b0c6b" stroke-width="1.25"/>
<circle cx="55.90" cy="171.40" r="3.2" fill="#e35932"/>
<circle cx="62.00" cy="158.40" r="3.2" fill="#e35932"/>
<circle cx="68.00" cy="152.40" r="3.2" fill="#e35932"/>
<circle cx="74.00" cy="141.90" r="3.2" fill="#e35932"/>
<circle cx="80.00" cy="136.70" r="3.2" fill="#e35932"/>
<circle cx="86.00" cy="129.80" r="3.2" fill="#e35932"/>
<circle cx="92.00" cy="123.00" r="3.2" fill="#e35932"/>
<circle cx="97.70" cy="103.50" r="3.2" fill="#e35932"/>
<circle cx="103.70" cy="85.90" r="3.2" fill="#e35932"/>
<circle cx="109.80" cy="72.20" r="3.2" fill="#e35932"/>
<circle cx="115.90" cy="71.20" r="3.2" fill="#e35932"/>
<circle cx="121.80" cy="70.00" r="3.2" fill="#e35932"/>
<circle cx="128.20" cy="67.70" r="3.2" fill="#e35932"/>
<circle cx="134.10" cy="75.00" r="3.2" fill="#e35932"/>
<circle cx="139.90" cy="77.50" r="3.2" fill="#e35932"/>
<circle cx="145.70" cy="84.50" r="3.2" fill="#e35932"/>
<circle cx="151.60" cy="86.60" r="3.2" fill="#e35932"/>
<circle cx="157.20" cy="94.30" r="3.2" fill="#e35932"/>
<circle cx="163.40" cy="100.90" r="2.45" fill="#fff" stroke="#e35932" stroke-width="1.25"/>
<circle cx="169.70" cy="106.50" r="2.45" fill="#fff" stroke="#e35932" stroke-width="1.25"/>
<circle cx="177.30" cy="116.10" r="2.45" fill="#fff" stroke="#e35932" stroke-width="1.25"/>
<circle cx="185.20" cy="120.90" r="2.45" fill="#fff" stroke="#e35932" stroke-width="1.25"/>
<circle cx="193.30" cy="128.90" r="2.45" fill="#fff" stroke="#e35932" stroke-width="1.25"/>
<circle cx="201.30" cy="132.10" r="2.45" fill="#fff" stroke="#e35932" stroke-width="1.25"/>
<circle cx="209.30" cy="136.60" r="2.45" fill="#fff" stroke="#e35932" stroke-width="1.25"/>
<circle cx="219.00" cy="137.70" r="2.45" fill="#fff" stroke="#e35932" stroke-width="1.25"/>
<circle cx="229.40" cy="139.80" r="2.45" fill="#fff" stroke="#e35932" stroke-width="1.25"/>
<circle cx="239.00" cy="141.40" r="2.45" fill="#fff" stroke="#e35932" stroke-width="1.25"/>
<circle cx="248.90" cy="145.00" r="2.45" fill="#fff" stroke="#e35932" stroke-width="1.25"/>
<circle cx="268.90" cy="146.90" r="2.45" fill="#fff" stroke="#e35932" stroke-width="1.25"/>
<circle cx="278.80" cy="150.90" r="2.45" fill="#fff" stroke="#e35932" stroke-width="1.25"/>
<circle cx="288.90" cy="153.90" r="2.45" fill="#fff" stroke="#e35932" stroke-width="1.25"/>
<circle cx="298.90" cy="157.50" r="2.45" fill="#fff" stroke="#e35932" stroke-width="1.25"/>
<circle cx="308.60" cy="161.80" r="2.45" fill="#fff" stroke="#e35932" stroke-width="1.25"/>
<circle cx="318.80" cy="166.40" r="2.45" fill="#fff" stroke="#e35932" stroke-width="1.25"/>
<circle cx="68.00" cy="174.00" r="3.2" fill="#f9c22e"/>
<circle cx="74.00" cy="174.00" r="3.2" fill="#f9c22e"/>
<circle cx="80.00" cy="174.00" r="3.2" fill="#f9c22e"/>
<circle cx="86.00" cy="173.80" r="3.2" fill="#f9c22e"/>
<circle cx="92.00" cy="169.10" r="3.2" fill="#f9c22e"/>
<circle cx="97.50" cy="165.60" r="3.2" fill="#f9c22e"/>
<circle cx="103.70" cy="161.50" r="3.2" fill="#f9c22e"/>
<circle cx="109.70" cy="157.40" r="3.2" fill="#f9c22e"/>
<circle cx="115.50" cy="156.00" r="3.2" fill="#f9c22e"/>
<circle cx="121.70" cy="157.20" r="3.2" fill="#f9c22e"/>
<circle cx="127.70" cy="157.30" r="3.2" fill="#f9c22e"/>
<circle cx="133.80" cy="159.60" r="3.2" fill="#f9c22e"/>
<circle cx="139.60" cy="159.40" r="3.2" fill="#f9c22e"/>
<circle cx="145.60" cy="157.00" r="3.2" fill="#f9c22e"/>
<circle cx="151.50" cy="153.80" r="3.2" fill="#f9c22e"/>
<circle cx="157.60" cy="150.30" r="3.2" fill="#f9c22e"/>
<circle cx="163.40" cy="149.90" r="3.2" fill="#f9c22e"/>
<circle cx="169.70" cy="153.80" r="3.2" fill="#f9c22e"/>
<circle cx="177.20" cy="163.40" r="3.2" fill="#f9c22e"/>
<circle cx="163.40" cy="152.50" r="2.45" fill="#fff" stroke="#f9c22e" stroke-width="1.25"/>
<circle cx="169.70" cy="156.80" r="2.45" fill="#fff" stroke="#f9c22e" stroke-width="1.25"/>
<circle cx="177.30" cy="159.00" r="2.45" fill="#fff" stroke="#f9c22e" stroke-width="1.25"/>
<circle cx="185.00" cy="163.40" r="2.45" fill="#fff" stroke="#f9c22e" stroke-width="1.25"/>
<circle cx="193.20" cy="165.00" r="2.45" fill="#fff" stroke="#f9c22e" stroke-width="1.25"/>
<circle cx="201.40" cy="167.00" r="2.45" fill="#fff" stroke="#f9c22e" stroke-width="1.25"/>
<circle cx="209.00" cy="166.60" r="2.45" fill="#fff" stroke="#f9c22e" stroke-width="1.25"/>
<circle cx="219.00" cy="166.60" r="2.45" fill="#fff" stroke="#f9c22e" stroke-width="1.25"/>
<circle cx="228.80" cy="166.60" r="2.45" fill="#fff" stroke="#f9c22e" stroke-width="1.25"/>
<circle cx="238.90" cy="165.60" r="2.45" fill="#fff" stroke="#f9c22e" stroke-width="1.25"/>
<circle cx="249.00" cy="165.80" r="2.45" fill="#fff" stroke="#f9c22e" stroke-width="1.25"/>
<circle cx="268.80" cy="165.60" r="2.45" fill="#fff" stroke="#f9c22e" stroke-width="1.25"/>
<circle cx="278.80" cy="164.40" r="2.45" fill="#fff" stroke="#f9c22e" stroke-width="1.25"/>
<circle cx="288.80" cy="163.70" r="2.45" fill="#fff" stroke="#f9c22e" stroke-width="1.25"/>
<circle cx="298.80" cy="164.50" r="2.45" fill="#fff" stroke="#f9c22e" stroke-width="1.25"/>
<circle cx="308.60" cy="166.00" r="2.45" fill="#fff" stroke="#f9c22e" stroke-width="1.25"/>
<circle cx="318.70" cy="166.80" r="2.45" fill="#fff" stroke="#f9c22e" stroke-width="1.25"/>
<circle cx="327.40" cy="166.00" r="2.45" fill="#fff" stroke="#f9c22e" stroke-width="1.25"/>
</g>
<g clip-path="url(#clipb)">
<path d="M402.30,147.50V153.50M408.60,141.60V171.90M413.00,150.00V166.00M420.40,154.00V171.00M426.00,156.00V169.00M432.10,156.00V168.50M438.40,141.40V158.10M444.50,140.20V159.30M450.50,138.50V158.70M456.40,130.10V152.10M462.40,130.10V149.20M468.30,134.30V152.10M474.30,142.00V159.30M480.20,140.80V156.90M486.20,146.80V159.90M492.10,146.20V156.90M498.10,147.40V163.50M504.00,137.30V161.10M509.80,141.30V157.30M516.20,149.00V162.20M524.10,150.00V161.00M531.90,147.70V166.80M539.80,143.10V164.80M547.70,141.20V162.90M556.00,141.80V164.20M565.70,146.40V162.20M585.80,147.70V161.50M595.80,147.20V167.30M615.80,154.10V168.00M625.50,154.10V171.50M635.60,156.20V167.30M655.50,156.00V168.00" stroke="#000000" stroke-width="2.0" fill="none"/>
<path d="M414.60,115.00V153.50M420.60,119.70V140.00M426.50,111.20V140.00M432.40,111.20V129.60M438.40,86.30V120.40M444.30,69.30V106.00M450.40,57.10V88.60M456.60,38.60V73.60M462.40,38.60V69.30M468.50,45.70V68.60M474.30,45.00V76.40M480.40,51.40V77.90M486.50,62.10V80.70M492.30,71.00V87.00M498.30,75.80V101.70M504.20,77.50V108.30M510.00,89.20V110.80M516.30,98.30V117.50M524.20,100.80V115.00M532.00,101.70V128.30M540.00,107.50V129.20M548.00,104.20V131.70M556.00,108.30V133.30M565.70,112.10V139.30M585.70,119.30V141.40M595.70,115.70V149.30M615.80,129.90V152.70M625.50,133.30V157.60M635.60,144.40V159.00M655.50,141.00V174.20M673.80,143.00V174.80" stroke="#f9c22e" stroke-width="2.0" fill="none"/>
<path d="M407.10,152.20 L408.60,150.17 L410.10,148.16 L411.60,146.17 L413.10,144.20 L414.60,142.26 L416.10,140.34 L417.60,138.44 L419.10,136.57 L420.59,134.72 L422.09,132.89 L423.59,131.18 L425.09,129.61 L426.59,128.07 L428.09,126.47 L429.59,124.72 L431.09,122.71 L432.59,120.32 L434.09,117.15 L435.59,113.33 L437.09,109.24 L438.59,105.25 L440.09,101.16 L441.59,96.94 L443.09,92.75 L444.59,88.76 L446.09,84.94 L447.58,81.23 L449.08,77.63 L450.58,74.15 L452.08,70.64 L453.58,67.25 L455.08,64.16 L456.58,61.51 L458.08,58.99 L459.58,56.85 L461.08,55.45 L462.58,54.54 L464.08,53.80 L465.58,53.32 L467.08,53.21 L468.58,53.42 L470.08,53.83 L471.58,54.35 L473.08,54.99 L474.57,55.96 L476.07,57.18 L477.57,58.58 L479.07,60.07 L480.57,61.59 L482.07,63.33 L483.57,65.25 L485.07,67.26 L486.57,69.27 L488.07,71.35 L489.57,73.50 L491.07,75.67 L492.57,77.81 L494.07,80.01 L495.57,82.21 L497.07,84.30 L498.57,86.20 L500.07,88.00 L501.56,89.74 L503.06,91.42 L504.56,93.03 L506.06,94.58 L507.56,96.05 L509.06,97.46 L510.56,98.79 L512.06,100.08 L513.56,101.33 L515.06,102.53 L516.56,103.68 L518.06,104.77 L519.56,105.79 L521.06,106.74 L522.56,107.61 L524.06,108.40 L525.56,109.13 L527.06,109.81 L528.55,110.46 L530.05,111.09 L531.55,111.73 L533.05,112.39 L534.55,113.08 L536.05,113.83 L537.55,114.62 L539.05,115.44 L540.55,116.26 L542.05,117.06 L543.55,117.82 L545.05,118.52 L546.55,119.16 L548.05,119.77 L549.55,120.34 L551.05,120.90 L552.55,121.44 L554.05,121.97 L555.54,122.51 L557.04,123.06 L558.54,123.62 L560.04,124.22 L561.54,124.85 L563.04,125.52 L564.54,126.22 L566.04,126.95 L567.54,127.69 L569.04,128.44 L570.54,129.20 L572.04,129.95 L573.54,130.69 L575.04,131.41 L576.54,132.11 L578.04,132.77 L579.54,133.39 L581.04,133.97 L582.53,134.49 L584.03,134.94 L585.53,135.33 L587.03,135.69 L588.53,136.02 L590.03,136.32 L591.53,136.61 L593.03,136.88 L594.53,137.14 L596.03,137.39 L597.53,137.63 L599.03,137.86 L600.53,138.09 L602.03,138.33 L603.53,138.56 L605.03,138.80 L606.53,139.05 L608.03,139.29 L609.52,139.52 L611.02,139.75 L612.52,139.98 L614.02,140.21 L615.52,140.43 L617.02,140.65 L618.52,140.87 L620.02,141.09 L621.52,141.30 L623.02,141.52 L624.52,141.73 L626.02,141.95 L627.52,142.16 L629.02,142.38 L630.52,142.59 L632.02,142.81 L633.52,143.02 L635.02,143.23 L636.51,143.44 L638.01,143.64 L639.51,143.84 L641.01,144.03 L642.51,144.21 L644.01,144.39 L645.51,144.56 L647.01,144.72 L648.51,144.88 L650.01,145.04 L651.51,145.20 L653.01,145.36 L654.51,145.51 L656.01,145.66 L657.51,145.81 L659.01,145.95 L660.51,146.10 L662.01,146.23 L663.50,146.37 L665.00,146.50 L666.50,146.63 L668.00,146.75 L669.50,146.87 L671.00,146.98 L672.50,147.09 L674.00,147.20 L675.50,147.30" fill="none" stroke="#f9c22e" stroke-width="1.95"/>
<line x1="397.1" y1="153.69" x2="675.5" y2="153.69" stroke="#000" stroke-width="2.0" stroke-dasharray="6.9 3.7" stroke-dashoffset="5.7"/>
<rect x="408.00" y="167.20" width="2.6" height="7.6" fill="#000"/>
<rect x="410.80" y="167.20" width="2.2" height="7.6" fill="#000"/>
<rect x="419.50" y="167.20" width="2.4" height="7.6" fill="#000"/>
<rect x="424.90" y="167.20" width="2.6" height="7.6" fill="#000"/>
<rect x="437.50" y="167.20" width="2.2" height="7.6" fill="#000"/>
<rect x="441.40" y="167.20" width="2.2" height="7.6" fill="#000"/>
<rect x="455.60" y="167.20" width="4" height="7.6" fill="#000"/>
<rect x="467.10" y="167.20" width="2.8" height="7.6" fill="#000"/>
<rect x="497.90" y="167.20" width="4" height="7.6" fill="#000"/>
<rect x="520.90" y="167.20" width="2.6" height="7.6" fill="#000"/>
<rect x="534.00" y="167.20" width="2.6" height="7.6" fill="#000"/>
<rect x="542.00" y="167.20" width="2.2" height="7.6" fill="#000"/>
<circle cx="402.30" cy="150.50" r="3.2" fill="#000000"/>
<circle cx="408.60" cy="156.70" r="3.2" fill="#000000"/>
<circle cx="413.00" cy="157.10" r="3.2" fill="#000000"/>
<circle cx="420.40" cy="162.50" r="3.2" fill="#000000"/>
<circle cx="426.00" cy="162.50" r="3.2" fill="#000000"/>
<circle cx="432.10" cy="162.30" r="3.2" fill="#000000"/>
<circle cx="438.40" cy="149.10" r="3.2" fill="#000000"/>
<circle cx="444.50" cy="149.80" r="3.2" fill="#000000"/>
<circle cx="450.50" cy="148.60" r="3.2" fill="#000000"/>
<circle cx="456.40" cy="141.40" r="3.2" fill="#000000"/>
<circle cx="462.40" cy="140.00" r="3.2" fill="#000000"/>
<circle cx="468.30" cy="143.80" r="3.2" fill="#000000"/>
<circle cx="474.30" cy="150.40" r="3.2" fill="#000000"/>
<circle cx="480.20" cy="148.60" r="3.2" fill="#000000"/>
<circle cx="486.20" cy="153.30" r="3.2" fill="#000000"/>
<circle cx="492.10" cy="151.50" r="3.2" fill="#000000"/>
<circle cx="498.10" cy="155.70" r="3.2" fill="#000000"/>
<circle cx="504.00" cy="149.20" r="3.2" fill="#000000"/>
<circle cx="509.80" cy="149.20" r="3.2" fill="#000000"/>
<circle cx="516.20" cy="155.60" r="3.2" fill="#000000"/>
<circle cx="524.10" cy="155.60" r="3.2" fill="#000000"/>
<circle cx="531.90" cy="156.90" r="2.45" fill="#fff" stroke="#000000" stroke-width="1.25"/>
<circle cx="539.80" cy="154.30" r="2.45" fill="#fff" stroke="#000000" stroke-width="1.25"/>
<circle cx="547.70" cy="152.30" r="2.45" fill="#fff" stroke="#000000" stroke-width="1.25"/>
<circle cx="556.00" cy="153.00" r="2.45" fill="#fff" stroke="#000000" stroke-width="1.25"/>
<circle cx="565.70" cy="154.30" r="2.45" fill="#fff" stroke="#000000" stroke-width="1.25"/>
<circle cx="585.80" cy="154.80" r="2.45" fill="#fff" stroke="#000000" stroke-width="1.25"/>
<circle cx="595.80" cy="153.20" r="2.45" fill="#fff" stroke="#000000" stroke-width="1.25"/>
<circle cx="615.80" cy="160.40" r="2.45" fill="#fff" stroke="#000000" stroke-width="1.25"/>
<circle cx="625.50" cy="160.80" r="2.45" fill="#fff" stroke="#000000" stroke-width="1.25"/>
<circle cx="635.60" cy="162.20" r="2.45" fill="#fff" stroke="#000000" stroke-width="1.25"/>
<circle cx="655.50" cy="162.20" r="2.45" fill="#fff" stroke="#000000" stroke-width="1.25"/>
<circle cx="414.60" cy="135.60" r="3.2" fill="#f9c22e"/>
<circle cx="420.60" cy="131.00" r="3.2" fill="#f9c22e"/>
<circle cx="426.50" cy="126.70" r="3.2" fill="#f9c22e"/>
<circle cx="432.40" cy="120.50" r="3.2" fill="#f9c22e"/>
<circle cx="438.40" cy="103.30" r="3.2" fill="#f9c22e"/>
<circle cx="444.30" cy="87.10" r="3.2" fill="#f9c22e"/>
<circle cx="450.40" cy="72.40" r="3.2" fill="#f9c22e"/>
<circle cx="456.60" cy="56.10" r="3.2" fill="#f9c22e"/>
<circle cx="462.40" cy="53.60" r="3.2" fill="#f9c22e"/>
<circle cx="468.50" cy="56.10" r="3.2" fill="#f9c22e"/>
<circle cx="474.30" cy="60.70" r="3.2" fill="#f9c22e"/>
<circle cx="480.40" cy="65.00" r="3.2" fill="#f9c22e"/>
<circle cx="486.50" cy="71.00" r="3.2" fill="#f9c22e"/>
<circle cx="492.30" cy="79.20" r="3.2" fill="#f9c22e"/>
<circle cx="498.30" cy="88.30" r="3.2" fill="#f9c22e"/>
<circle cx="504.20" cy="93.30" r="3.2" fill="#f9c22e"/>
<circle cx="510.00" cy="100.00" r="3.2" fill="#f9c22e"/>
<circle cx="516.30" cy="108.00" r="3.2" fill="#f9c22e"/>
<circle cx="524.20" cy="108.00" r="3.2" fill="#f9c22e"/>
<circle cx="532.00" cy="114.70" r="2.45" fill="#fff" stroke="#f9c22e" stroke-width="1.25"/>
<circle cx="540.00" cy="118.30" r="2.45" fill="#fff" stroke="#f9c22e" stroke-width="1.25"/>
<circle cx="548.00" cy="117.50" r="2.45" fill="#fff" stroke="#f9c22e" stroke-width="1.25"/>
<circle cx="556.00" cy="123.00" r="2.45" fill="#fff" stroke="#f9c22e" stroke-width="1.25"/>
<circle cx="565.70" cy="125.50" r="2.45" fill="#fff" stroke="#f9c22e" stroke-width="1.25"/>
<circle cx="585.70" cy="130.70" r="2.45" fill="#fff" stroke="#f9c22e" stroke-width="1.25"/>
<circle cx="595.70" cy="132.10" r="2.45" fill="#fff" stroke="#f9c22e" stroke-width="1.25"/>
<circle cx="615.80" cy="141.60" r="2.45" fill="#fff" stroke="#f9c22e" stroke-width="1.25"/>
<circle cx="625.50" cy="146.90" r="2.45" fill="#fff" stroke="#f9c22e" stroke-width="1.25"/>
<circle cx="635.60" cy="152.00" r="2.45" fill="#fff" stroke="#f9c22e" stroke-width="1.25"/>
<circle cx="655.50" cy="158.00" r="2.45" fill="#fff" stroke="#f9c22e" stroke-width="1.25"/>
<circle cx="673.80" cy="159.70" r="2.45" fill="#fff" stroke="#f9c22e" stroke-width="1.25"/>
</g>
<g clip-path="url(#clipc)">
<path d="M80.00,331.00V350.30M86.50,335.00V347.00M92.00,337.70V355.70M98.10,328.00V341.00M103.60,315.00V329.00M109.70,305.00V320.00M115.80,262.00V279.20M121.70,296.70V313.30M127.50,295.00V308.30M133.70,292.50V305.00M139.70,276.00V288.00M145.80,276.00V288.00M151.70,274.00V286.00M157.50,278.30V299.20M163.30,297.00V310.00M169.70,287.50V299.00M185.30,320.00V337.50M193.50,300.00V318.30M201.50,300.80V333.30M209.10,298.70V332.30M218.80,330.00V346.00M239.40,331.00V346.00M249.20,322.00V365.80M268.80,340.00V356.00M278.60,340.00V359.00M288.40,350.00V362.00M308.30,366.00V379.30M327.40,329.00V379.30" stroke="#4b0c6b" stroke-width="2.0" fill="none"/>
<path d="M56.00,354.90V380.00M62.00,351.00V380.00M68.00,351.90V369.30M74.00,348.90V364.00M79.80,334.50V354.80M85.70,343.00V356.00M91.50,326.00V341.00M97.50,308.30V328.00M103.30,293.30V318.00M109.70,287.50V310.00M115.00,255.00V276.00M121.70,288.50V308.00M127.50,279.20V300.00M133.70,271.70V295.00M139.70,265.80V279.20M145.80,264.20V278.30M151.70,267.50V282.50M157.50,265.00V295.00M163.30,286.70V303.00M169.70,290.00V307.00M177.50,305.00V320.00M163.30,286.70V323.30M169.70,303.00V323.00M177.50,284.00V345.00M185.30,310.00V327.00M193.50,323.00V339.00M201.50,316.00V331.00M209.10,314.00V330.00M218.80,335.50V348.50M228.60,317.00V356.00M239.40,334.00V348.00M249.20,345.00V359.00M268.80,333.00V345.00M278.60,343.00V356.00M288.40,356.00V368.00M298.10,347.00V359.00M308.30,349.00V360.00M318.70,352.00V368.00" stroke="#e35932" stroke-width="2.0" fill="none"/>
<path d="M68.00,357.90V379.30M74.00,356.00V373.00M80.00,354.40V378.00M85.70,365.00V379.30M92.00,361.00V374.00M98.00,370.00V379.30M103.90,342.50V367.90M109.70,336.00V349.00M115.50,340.00V354.00M121.70,348.00V361.00M127.60,354.00V367.00M133.50,348.00V361.00M139.50,337.00V350.00M145.40,328.60V344.70M151.80,319.30V345.50M157.60,341.30V369.20M163.70,331.20V354.00M169.10,341.00V364.00M177.50,347.00V361.00M163.70,338.00V360.00M169.10,350.60V376.00M177.50,353.00V367.00M185.10,349.60V356.60M192.80,353.00V360.00M201.50,354.10V361.10M209.10,351.10V358.10M218.80,350.00V357.00M228.60,356.90V363.90M239.40,355.80V362.80M249.20,367.80V374.80M268.80,374.40V381.40M278.60,361.30V368.30M288.40,364.60V371.60M298.10,361.30V368.30M318.70,368.90V375.90M327.40,363.50V370.50" stroke="#f9c22e" stroke-width="2.0" fill="none"/>
<path d="M50.20,379.30 L51.70,378.98 L53.19,378.54 L54.69,378.01 L56.19,377.42 L57.68,376.75 L59.18,375.95 L60.67,375.01 L62.17,373.90 L63.67,372.55 L65.16,370.63 L66.66,368.32 L68.16,365.86 L69.65,363.51 L71.15,361.37 L72.64,359.28 L74.14,357.21 L75.64,355.13 L77.13,353.04 L78.63,350.92 L80.13,348.74 L81.62,346.48 L83.12,344.16 L84.61,341.83 L86.11,339.53 L87.61,337.31 L89.10,335.19 L90.60,333.24 L92.10,331.42 L93.59,329.69 L95.09,328.03 L96.58,326.39 L98.08,324.72 L99.58,323.00 L101.07,321.18 L102.57,319.26 L104.07,317.29 L105.56,315.32 L107.06,313.40 L108.55,311.60 L110.05,309.95 L111.55,308.42 L113.04,306.95 L114.54,305.53 L116.04,304.17 L117.53,302.86 L119.03,301.61 L120.52,300.40 L122.02,299.25 L123.52,298.14 L125.01,297.06 L126.51,295.99 L128.01,294.94 L129.50,293.93 L131.00,292.97 L132.49,292.08 L133.99,291.26 L135.49,290.52 L136.98,289.89 L138.48,289.27 L139.98,288.64 L141.47,288.05 L142.97,287.51 L144.46,287.05 L145.96,286.72 L147.46,286.53 L148.95,286.51 L150.45,286.64 L151.95,286.86 L153.44,287.15 L154.94,287.49 L156.43,287.95 L157.93,288.66 L159.43,289.55 L160.92,290.59 L162.42,291.71 L163.92,292.88 L165.41,294.04 L166.91,295.15 L168.40,296.28 L169.90,297.48 L171.40,298.72 L172.89,299.97 L174.39,301.21 L175.89,302.41 L177.38,303.64 L178.88,304.86 L180.37,306.06 L181.87,307.23 L183.37,308.35 L184.86,309.43 L186.36,310.49 L187.86,311.54 L189.35,312.57 L190.85,313.58 L192.34,314.56 L193.84,315.53 L195.34,316.46 L196.83,317.37 L198.33,318.25 L199.83,319.10 L201.32,319.90 L202.82,320.65 L204.31,321.36 L205.81,322.07 L207.31,322.80 L208.80,323.56 L210.30,324.37 L211.80,325.20 L213.29,326.05 L214.79,326.91 L216.28,327.78 L217.78,328.66 L219.28,329.53 L220.77,330.39 L222.27,331.24 L223.77,332.07 L225.26,332.87 L226.76,333.63 L228.25,334.37 L229.75,335.08 L231.25,335.78 L232.74,336.47 L234.24,337.14 L235.74,337.80 L237.23,338.45 L238.73,339.08 L240.22,339.71 L241.72,340.32 L243.22,340.92 L244.71,341.50 L246.21,342.08 L247.71,342.65 L249.20,343.22 L250.70,343.78 L252.19,344.33 L253.69,344.87 L255.19,345.41 L256.68,345.93 L258.18,346.43 L259.68,346.92 L261.17,347.39 L262.67,347.84 L264.16,348.27 L265.66,348.68 L267.16,349.07 L268.65,349.46 L270.15,349.83 L271.65,350.19 L273.14,350.55 L274.64,350.89 L276.13,351.23 L277.63,351.56 L279.13,351.88 L280.62,352.19 L282.12,352.50 L283.62,352.79 L285.11,353.09 L286.61,353.37 L288.10,353.65 L289.60,353.93 L291.10,354.20 L292.59,354.47 L294.09,354.73 L295.59,355.00 L297.08,355.26 L298.58,355.51 L300.07,355.77 L301.57,356.02 L303.07,356.27 L304.56,356.51 L306.06,356.75 L307.56,356.99 L309.05,357.22 L310.55,357.45 L312.04,357.68 L313.54,357.90 L315.04,358.12 L316.53,358.33 L318.03,358.54 L319.53,358.74 L321.02,358.93 L322.52,359.13 L324.01,359.31 L325.51,359.49 L327.01,359.67 L328.50,359.84 L330.00,360.00" fill="none" stroke="#4b0c6b" stroke-width="1.95"/>
<path d="M50.20,379.30 L51.70,379.18 L53.19,378.86 L54.69,378.43 L56.19,377.94 L57.68,377.22 L59.18,376.24 L60.67,375.09 L62.17,373.86 L63.67,372.48 L65.16,370.90 L66.66,369.18 L68.16,367.34 L69.65,365.45 L71.15,363.50 L72.64,361.44 L74.14,359.28 L75.64,357.03 L77.13,354.69 L78.63,352.27 L80.13,349.79 L81.62,347.15 L83.12,344.34 L84.61,341.42 L86.11,338.46 L87.61,335.51 L89.10,332.65 L90.60,329.92 L92.10,327.27 L93.59,324.66 L95.09,322.09 L96.58,319.56 L98.08,317.06 L99.58,314.62 L101.07,312.26 L102.57,309.93 L104.07,307.59 L105.56,305.19 L107.06,302.69 L108.55,300.00 L110.05,297.19 L111.55,294.36 L113.04,291.61 L114.54,289.04 L116.04,286.66 L117.53,284.28 L119.03,281.99 L120.52,279.87 L122.02,278.02 L123.52,276.50 L125.01,275.15 L126.51,273.87 L128.01,272.74 L129.50,271.82 L131.00,271.18 L132.49,270.85 L133.99,270.58 L135.49,270.37 L136.98,270.24 L138.48,270.20 L139.98,270.36 L141.47,270.74 L142.97,271.24 L144.46,271.80 L145.96,272.39 L147.46,273.12 L148.95,274.00 L150.45,275.03 L151.95,276.21 L153.44,277.76 L154.94,279.67 L156.43,281.77 L157.93,283.90 L159.43,286.13 L160.92,288.60 L162.42,291.14 L163.92,293.61 L165.41,295.86 L166.91,297.74 L168.40,299.37 L169.90,300.90 L171.40,302.34 L172.89,303.70 L174.39,304.99 L175.89,306.22 L177.38,307.39 L178.88,308.52 L180.37,309.62 L181.87,310.69 L183.37,311.75 L184.86,312.78 L186.36,313.78 L187.86,314.75 L189.35,315.68 L190.85,316.59 L192.34,317.47 L193.84,318.33 L195.34,319.18 L196.83,320.00 L198.33,320.81 L199.83,321.61 L201.32,322.39 L202.82,323.17 L204.31,323.93 L205.81,324.67 L207.31,325.41 L208.80,326.13 L210.30,326.84 L211.80,327.55 L213.29,328.24 L214.79,328.93 L216.28,329.60 L217.78,330.27 L219.28,330.94 L220.77,331.60 L222.27,332.25 L223.77,332.90 L225.26,333.54 L226.76,334.18 L228.25,334.82 L229.75,335.47 L231.25,336.11 L232.74,336.76 L234.24,337.40 L235.74,338.05 L237.23,338.69 L238.73,339.33 L240.22,339.96 L241.72,340.58 L243.22,341.20 L244.71,341.80 L246.21,342.39 L247.71,342.97 L249.20,343.54 L250.70,344.09 L252.19,344.62 L253.69,345.14 L255.19,345.63 L256.68,346.10 L258.18,346.55 L259.68,346.99 L261.17,347.41 L262.67,347.82 L264.16,348.23 L265.66,348.62 L267.16,349.00 L268.65,349.38 L270.15,349.75 L271.65,350.10 L273.14,350.46 L274.64,350.80 L276.13,351.14 L277.63,351.47 L279.13,351.79 L280.62,352.11 L282.12,352.43 L283.62,352.73 L285.11,353.04 L286.61,353.34 L288.10,353.63 L289.60,353.92 L291.10,354.21 L292.59,354.50 L294.09,354.78 L295.59,355.06 L297.08,355.34 L298.58,355.61 L300.07,355.89 L301.57,356.15 L303.07,356.42 L304.56,356.68 L306.06,356.94 L307.56,357.20 L309.05,357.45 L310.55,357.69 L312.04,357.94 L313.54,358.18 L315.04,358.41 L316.53,358.64 L318.03,358.87 L319.53,359.09 L321.02,359.30 L322.52,359.52 L324.01,359.72 L325.51,359.93 L327.01,360.12 L328.50,360.31 L330.00,360.50" fill="none" stroke="#e35932" stroke-width="1.95"/>
<path d="M56.00,379.30 L57.50,378.66 L58.99,378.03 L60.49,377.40 L61.99,376.76 L63.49,376.13 L64.98,375.51 L66.48,374.87 L67.98,374.22 L69.48,373.57 L70.97,372.91 L72.47,372.26 L73.97,371.62 L75.46,371.00 L76.96,370.40 L78.46,369.84 L79.96,369.31 L81.45,368.83 L82.95,368.39 L84.45,367.98 L85.95,367.58 L87.44,367.18 L88.94,366.77 L90.44,366.33 L91.93,365.86 L93.43,365.33 L94.93,364.77 L96.43,364.19 L97.92,363.59 L99.42,362.98 L100.92,362.38 L102.42,361.79 L103.91,361.22 L105.41,360.70 L106.91,360.21 L108.40,359.73 L109.90,359.26 L111.40,358.80 L112.90,358.35 L114.39,357.93 L115.89,357.52 L117.39,357.13 L118.89,356.76 L120.38,356.41 L121.88,356.08 L123.38,355.74 L124.87,355.42 L126.37,355.10 L127.87,354.79 L129.37,354.50 L130.86,354.23 L132.36,353.98 L133.86,353.76 L135.36,353.57 L136.85,353.40 L138.35,353.26 L139.85,353.12 L141.34,352.98 L142.84,352.85 L144.34,352.72 L145.84,352.61 L147.33,352.51 L148.83,352.43 L150.33,352.37 L151.83,352.32 L153.32,352.30 L154.82,352.30 L156.32,352.30 L157.81,352.30 L159.31,352.30 L160.81,352.30 L162.31,352.30 L163.80,352.30 L165.30,352.30 L166.80,352.30 L168.30,352.30 L169.79,352.30 L171.29,352.30 L172.79,352.32 L174.28,352.35 L175.78,352.40 L177.28,352.47 L178.78,352.55 L180.27,352.65 L181.77,352.75 L183.27,352.86 L184.77,352.99 L186.26,353.11 L187.76,353.25 L189.26,353.38 L190.75,353.52 L192.25,353.65 L193.75,353.79 L195.25,353.92 L196.74,354.06 L198.24,354.20 L199.74,354.36 L201.23,354.52 L202.73,354.69 L204.23,354.86 L205.73,355.05 L207.22,355.24 L208.72,355.44 L210.22,355.64 L211.72,355.85 L213.21,356.06 L214.71,356.28 L216.21,356.50 L217.70,356.73 L219.20,356.96 L220.70,357.20 L222.20,357.43 L223.69,357.68 L225.19,357.92 L226.69,358.17 L228.19,358.42 L229.68,358.68 L231.18,358.97 L232.68,359.27 L234.17,359.58 L235.67,359.91 L237.17,360.24 L238.67,360.59 L240.16,360.94 L241.66,361.29 L243.16,361.64 L244.66,361.99 L246.15,362.34 L247.65,362.69 L249.15,363.03 L250.64,363.36 L252.14,363.68 L253.64,363.99 L255.14,364.29 L256.63,364.56 L258.13,364.82 L259.63,365.07 L261.13,365.31 L262.62,365.55 L264.12,365.78 L265.62,366.00 L267.11,366.22 L268.61,366.44 L270.11,366.65 L271.61,366.86 L273.10,367.06 L274.60,367.27 L276.10,367.46 L277.60,367.66 L279.09,367.85 L280.59,368.04 L282.09,368.23 L283.58,368.42 L285.08,368.60 L286.58,368.78 L288.08,368.97 L289.57,369.15 L291.07,369.33 L292.57,369.51 L294.07,369.69 L295.56,369.87 L297.06,370.04 L298.56,370.22 L300.05,370.39 L301.55,370.56 L303.05,370.73 L304.55,370.90 L306.04,371.07 L307.54,371.23 L309.04,371.40 L310.54,371.56 L312.03,371.72 L313.53,371.88 L315.03,372.04 L316.52,372.19 L318.02,372.34 L319.52,372.50 L321.02,372.65 L322.51,372.79 L324.01,372.94 L325.51,373.08 L327.01,373.22 L328.50,373.36 L330.00,373.50" fill="none" stroke="#f9c22e" stroke-width="1.95"/>
<rect x="61.00" y="371.70" width="3.0" height="7.6" fill="#000"/>
<rect x="73.10" y="371.70" width="2.2" height="7.6" fill="#000"/>
<rect x="76.80" y="371.70" width="2.4" height="7.6" fill="#000"/>
<rect x="92.60" y="371.70" width="2.8" height="7.6" fill="#000"/>
<rect x="109.70" y="371.70" width="3.0" height="7.6" fill="#000"/>
<rect x="121.10" y="371.70" width="2.6" height="7.6" fill="#000"/>
<rect x="151.20" y="371.70" width="3.4" height="7.6" fill="#000"/>
<rect x="174.10" y="371.70" width="2.6" height="7.6" fill="#000"/>
<rect x="187.70" y="371.70" width="2.6" height="7.6" fill="#000"/>
<rect x="194.40" y="371.70" width="2.6" height="7.6" fill="#000"/>
<circle cx="80.00" cy="340.30" r="3.2" fill="#4b0c6b"/>
<circle cx="86.50" cy="341.30" r="3.2" fill="#4b0c6b"/>
<circle cx="92.00" cy="343.00" r="3.2" fill="#4b0c6b"/>
<circle cx="98.10" cy="334.50" r="3.2" fill="#4b0c6b"/>
<circle cx="103.60" cy="322.50" r="3.2" fill="#4b0c6b"/>
<circle cx="109.70" cy="312.50" r="3.2" fill="#4b0c6b"/>
<circle cx="115.80" cy="269.50" r="3.2" fill="#4b0c6b"/>
<circle cx="121.70" cy="303.30" r="3.2" fill="#4b0c6b"/>
<circle cx="127.50" cy="301.70" r="3.2" fill="#4b0c6b"/>
<circle cx="133.70" cy="299.20" r="3.2" fill="#4b0c6b"/>
<circle cx="139.70" cy="281.70" r="3.2" fill="#4b0c6b"/>
<circle cx="145.80" cy="281.70" r="3.2" fill="#4b0c6b"/>
<circle cx="151.70" cy="280.00" r="3.2" fill="#4b0c6b"/>
<circle cx="157.50" cy="285.00" r="3.2" fill="#4b0c6b"/>
<circle cx="163.30" cy="303.30" r="3.2" fill="#4b0c6b"/>
<circle cx="169.70" cy="293.00" r="3.2" fill="#4b0c6b"/>
<circle cx="185.30" cy="327.90" r="2.45" fill="#fff" stroke="#4b0c6b" stroke-width="1.25"/>
<circle cx="193.50" cy="312.00" r="2.45" fill="#fff" stroke="#4b0c6b" stroke-width="1.25"/>
<circle cx="201.50" cy="317.10" r="2.45" fill="#fff" stroke="#4b0c6b" stroke-width="1.25"/>
<circle cx="209.10" cy="316.00" r="2.45" fill="#fff" stroke="#4b0c6b" stroke-width="1.25"/>
<circle cx="218.80" cy="338.80" r="2.45" fill="#fff" stroke="#4b0c6b" stroke-width="1.25"/>
<circle cx="239.40" cy="338.80" r="2.45" fill="#fff" stroke="#4b0c6b" stroke-width="1.25"/>
<circle cx="249.20" cy="346.80" r="2.45" fill="#fff" stroke="#4b0c6b" stroke-width="1.25"/>
<circle cx="268.80" cy="348.10" r="2.45" fill="#fff" stroke="#4b0c6b" stroke-width="1.25"/>
<circle cx="278.60" cy="352.90" r="2.45" fill="#fff" stroke="#4b0c6b" stroke-width="1.25"/>
<circle cx="288.40" cy="356.20" r="2.45" fill="#fff" stroke="#4b0c6b" stroke-width="1.25"/>
<circle cx="308.30" cy="372.90" r="2.45" fill="#fff" stroke="#4b0c6b" stroke-width="1.25"/>
<circle cx="327.40" cy="354.60" r="2.45" fill="#fff" stroke="#4b0c6b" stroke-width="1.25"/>
<circle cx="56.00" cy="380.00" r="3.2" fill="#e35932"/>
<circle cx="62.00" cy="380.00" r="3.2" fill="#e35932"/>
<circle cx="68.00" cy="361.00" r="3.2" fill="#e35932"/>
<circle cx="74.00" cy="357.00" r="3.2" fill="#e35932"/>
<circle cx="79.80" cy="345.50" r="3.2" fill="#e35932"/>
<circle cx="85.70" cy="349.70" r="3.2" fill="#e35932"/>
<circle cx="91.50" cy="333.50" r="3.2" fill="#e35932"/>
<circle cx="97.50" cy="319.20" r="3.2" fill="#e35932"/>
<circle cx="103.30" cy="308.00" r="3.2" fill="#e35932"/>
<circle cx="109.70" cy="300.00" r="3.2" fill="#e35932"/>
<circle cx="115.00" cy="266.30" r="3.2" fill="#e35932"/>
<circle cx="121.70" cy="298.00" r="3.2" fill="#e35932"/>
<circle cx="127.50" cy="289.70" r="3.2" fill="#e35932"/>
<circle cx="133.70" cy="283.00" r="3.2" fill="#e35932"/>
<circle cx="139.70" cy="271.70" r="3.2" fill="#e35932"/>
<circle cx="145.80" cy="270.80" r="3.2" fill="#e35932"/>
<circle cx="151.70" cy="274.20" r="3.2" fill="#e35932"/>
<circle cx="157.50" cy="280.00" r="3.2" fill="#e35932"/>
<circle cx="163.30" cy="295.00" r="3.2" fill="#e35932"/>
<circle cx="169.70" cy="298.70" r="3.2" fill="#e35932"/>
<circle cx="177.50" cy="312.50" r="3.2" fill="#e35932"/>
<circle cx="163.30" cy="305.80" r="2.45" fill="#fff" stroke="#e35932" stroke-width="1.25"/>
<circle cx="169.70" cy="313.00" r="2.45" fill="#fff" stroke="#e35932" stroke-width="1.25"/>
<circle cx="177.50" cy="316.30" r="2.45" fill="#fff" stroke="#e35932" stroke-width="1.25"/>
<circle cx="185.30" cy="318.30" r="2.45" fill="#fff" stroke="#e35932" stroke-width="1.25"/>
<circle cx="193.50" cy="331.00" r="2.45" fill="#fff" stroke="#e35932" stroke-width="1.25"/>
<circle cx="201.50" cy="323.60" r="2.45" fill="#fff" stroke="#e35932" stroke-width="1.25"/>
<circle cx="209.10" cy="322.10" r="2.45" fill="#fff" stroke="#e35932" stroke-width="1.25"/>
<circle cx="218.80" cy="342.40" r="2.45" fill="#fff" stroke="#e35932" stroke-width="1.25"/>
<circle cx="228.60" cy="336.60" r="2.45" fill="#fff" stroke="#e35932" stroke-width="1.25"/>
<circle cx="239.40" cy="340.90" r="2.45" fill="#fff" stroke="#e35932" stroke-width="1.25"/>
<circle cx="249.20" cy="352.40" r="2.45" fill="#fff" stroke="#e35932" stroke-width="1.25"/>
<circle cx="268.80" cy="338.80" r="2.45" fill="#fff" stroke="#e35932" stroke-width="1.25"/>
<circle cx="278.60" cy="349.70" r="2.45" fill="#fff" stroke="#e35932" stroke-width="1.25"/>
<circle cx="288.40" cy="362.00" r="2.45" fill="#fff" stroke="#e35932" stroke-width="1.25"/>
<circle cx="298.10" cy="352.90" r="2.45" fill="#fff" stroke="#e35932" stroke-width="1.25"/>
<circle cx="308.30" cy="354.60" r="2.45" fill="#fff" stroke="#e35932" stroke-width="1.25"/>
<circle cx="318.70" cy="359.80" r="2.45" fill="#fff" stroke="#e35932" stroke-width="1.25"/>
<circle cx="68.00" cy="372.40" r="3.2" fill="#f9c22e"/>
<circle cx="74.00" cy="364.70" r="3.2" fill="#f9c22e"/>
<circle cx="80.00" cy="368.20" r="3.2" fill="#f9c22e"/>
<circle cx="85.70" cy="372.90" r="3.2" fill="#f9c22e"/>
<circle cx="92.00" cy="366.50" r="3.2" fill="#f9c22e"/>
<circle cx="98.00" cy="375.50" r="3.2" fill="#f9c22e"/>
<circle cx="103.90" cy="354.80" r="3.2" fill="#f9c22e"/>
<circle cx="109.70" cy="341.80" r="3.2" fill="#f9c22e"/>
<circle cx="115.50" cy="347.60" r="3.2" fill="#f9c22e"/>
<circle cx="121.70" cy="354.80" r="3.2" fill="#f9c22e"/>
<circle cx="127.60" cy="360.40" r="3.2" fill="#f9c22e"/>
<circle cx="133.50" cy="354.80" r="3.2" fill="#f9c22e"/>
<circle cx="139.50" cy="343.50" r="3.2" fill="#f9c22e"/>
<circle cx="145.40" cy="336.20" r="3.2" fill="#f9c22e"/>
<circle cx="151.80" cy="332.80" r="3.2" fill="#f9c22e"/>
<circle cx="157.60" cy="356.00" r="3.2" fill="#f9c22e"/>
<circle cx="163.70" cy="343.50" r="3.2" fill="#f9c22e"/>
<circle cx="169.10" cy="351.50" r="3.2" fill="#f9c22e"/>
<circle cx="177.50" cy="354.00" r="3.2" fill="#f9c22e"/>
<circle cx="163.70" cy="349.80" r="2.45" fill="#fff" stroke="#f9c22e" stroke-width="1.25"/>
<circle cx="169.10" cy="365.80" r="2.45" fill="#fff" stroke="#f9c22e" stroke-width="1.25"/>
<circle cx="177.50" cy="359.90" r="2.45" fill="#fff" stroke="#f9c22e" stroke-width="1.25"/>
<circle cx="185.10" cy="353.10" r="2.45" fill="#fff" stroke="#f9c22e" stroke-width="1.25"/>
<circle cx="192.80" cy="356.50" r="2.45" fill="#fff" stroke="#f9c22e" stroke-width="1.25"/>
<circle cx="201.50" cy="357.60" r="2.45" fill="#fff" stroke="#f9c22e" stroke-width="1.25"/>
<circle cx="209.10" cy="354.60" r="2.45" fill="#fff" stroke="#f9c22e" stroke-width="1.25"/>
<circle cx="218.80" cy="353.50" r="2.45" fill="#fff" stroke="#f9c22e" stroke-width="1.25"/>
<circle cx="228.60" cy="360.40" r="2.45" fill="#fff" stroke="#f9c22e" stroke-width="1.25"/>
<circle cx="239.40" cy="359.30" r="2.45" fill="#fff" stroke="#f9c22e" stroke-width="1.25"/>
<circle cx="249.20" cy="371.30" r="2.45" fill="#fff" stroke="#f9c22e" stroke-width="1.25"/>
<circle cx="268.80" cy="377.90" r="2.45" fill="#fff" stroke="#f9c22e" stroke-width="1.25"/>
<circle cx="278.60" cy="364.80" r="2.45" fill="#fff" stroke="#f9c22e" stroke-width="1.25"/>
<circle cx="288.40" cy="368.10" r="2.45" fill="#fff" stroke="#f9c22e" stroke-width="1.25"/>
<circle cx="298.10" cy="364.80" r="2.45" fill="#fff" stroke="#f9c22e" stroke-width="1.25"/>
<circle cx="318.70" cy="372.40" r="2.45" fill="#fff" stroke="#f9c22e" stroke-width="1.25"/>
<circle cx="327.40" cy="367.00" r="2.45" fill="#fff" stroke="#f9c22e" stroke-width="1.25"/>
</g>
<g clip-path="url(#clipd)">
<path d="M402.80,295.20V364.70M408.60,291.90V368.50M414.50,325.00V336.00M420.70,323.00V334.00M426.80,318.00V331.00M432.90,316.00V328.00M438.70,327.00V353.00M444.50,328.90V361.70M450.80,328.90V359.70M457.00,323.10V361.70M462.40,317.30V348.20M468.50,319.30V349.10M474.70,330.80V354.90M480.50,334.70V358.80M486.30,330.00V346.00M492.00,334.70V348.00M498.40,323.10V346.20M504.20,314.50V355.90M510.50,327.00V349.50M516.30,317.30V332.00M531.40,325.30V350.00M540.00,297.50V324.20M548.10,307.00V342.40M555.60,309.00V342.40M565.70,320.00V335.00M585.40,320.00V336.00M596.00,311.00V350.30M615.70,330.00V349.20M626.00,326.70V349.00M635.40,319.00V329.00M655.30,342.80V353.50" stroke="#000000" stroke-width="2.0" fill="none"/>
<path d="M414.70,302.00V334.50M420.70,315.00V326.40M427.10,285.00V317.00M432.90,292.90V305.00M439.00,294.30V318.60M444.70,273.30V300.00M450.80,282.50V311.00M456.60,284.30V314.30M462.50,237.00V262.50M468.30,267.50V288.30M474.20,263.30V278.30M480.00,269.20V280.80M486.30,261.70V274.20M492.00,265.00V284.20M498.30,260.00V290.00M504.20,240.00V280.00M510.10,275.00V305.00M516.10,260.00V284.00M531.40,293.20V313.50M540.00,273.90V297.50M548.10,272.80V306.00M555.60,274.00V307.00M565.70,308.20V322.00M585.40,302.80V315.70M596.00,280.70V323.50M615.70,290.30V308.50M626.00,305.30V330.00M635.40,314.00V321.40M655.30,319.00V326.00M674.60,291.40V342.80" stroke="#f9c22e" stroke-width="2.0" fill="none"/>
<path d="M410.70,327.10 L412.20,325.96 L413.69,324.81 L415.19,323.66 L416.68,322.51 L418.18,321.36 L419.68,320.21 L421.17,319.06 L422.67,317.90 L424.16,316.74 L425.66,315.58 L427.16,314.41 L428.65,313.27 L430.15,312.13 L431.64,310.96 L433.14,309.74 L434.64,308.45 L436.13,307.14 L437.63,305.77 L439.12,304.28 L440.62,302.60 L442.12,300.57 L443.61,298.19 L445.11,295.58 L446.61,292.91 L448.10,290.33 L449.60,287.85 L451.09,285.36 L452.59,282.88 L454.09,280.45 L455.58,278.08 L457.08,275.71 L458.57,273.43 L460.07,271.41 L461.57,269.52 L463.06,267.78 L464.56,266.46 L466.05,265.66 L467.55,265.05 L469.05,264.80 L470.54,264.93 L472.04,265.24 L473.53,265.71 L475.03,266.77 L476.53,268.14 L478.02,269.63 L479.52,271.39 L481.01,273.31 L482.51,275.27 L484.01,277.15 L485.50,278.85 L487.00,280.48 L488.49,282.06 L489.99,283.59 L491.49,285.05 L492.98,286.42 L494.48,287.72 L495.97,289.00 L497.47,290.24 L498.97,291.45 L500.46,292.61 L501.96,293.71 L503.45,294.74 L504.95,295.69 L506.45,296.56 L507.94,297.36 L509.44,298.11 L510.94,298.82 L512.43,299.50 L513.93,300.13 L515.42,300.73 L516.92,301.28 L518.42,301.80 L519.91,302.27 L521.41,302.71 L522.90,303.12 L524.40,303.50 L525.90,303.85 L527.39,304.19 L528.89,304.52 L530.38,304.83 L531.88,305.15 L533.38,305.46 L534.87,305.77 L536.37,306.09 L537.86,306.40 L539.36,306.70 L540.86,307.00 L542.35,307.30 L543.85,307.59 L545.34,307.88 L546.84,308.16 L548.34,308.45 L549.83,308.73 L551.33,309.02 L552.82,309.30 L554.32,309.59 L555.82,309.89 L557.31,310.18 L558.81,310.48 L560.30,310.78 L561.80,311.08 L563.30,311.37 L564.79,311.66 L566.29,311.95 L567.78,312.22 L569.28,312.49 L570.78,312.75 L572.27,313.00 L573.77,313.23 L575.26,313.46 L576.76,313.68 L578.26,313.90 L579.75,314.11 L581.25,314.32 L582.75,314.52 L584.24,314.72 L585.74,314.91 L587.23,315.10 L588.73,315.29 L590.23,315.47 L591.72,315.64 L593.22,315.81 L594.71,315.97 L596.21,316.13 L597.71,316.28 L599.20,316.43 L600.70,316.56 L602.19,316.70 L603.69,316.83 L605.19,316.96 L606.68,317.08 L608.18,317.20 L609.67,317.32 L611.17,317.43 L612.67,317.55 L614.16,317.66 L615.66,317.77 L617.15,317.87 L618.65,317.97 L620.15,318.08 L621.64,318.18 L623.14,318.27 L624.63,318.37 L626.13,318.46 L627.63,318.56 L629.12,318.65 L630.62,318.74 L632.11,318.83 L633.61,318.92 L635.11,319.01 L636.60,319.09 L638.10,319.18 L639.59,319.27 L641.09,319.35 L642.59,319.43 L644.08,319.52 L645.58,319.60 L647.08,319.68 L648.57,319.76 L650.07,319.84 L651.56,319.92 L653.06,320.00 L654.56,320.07 L656.05,320.15 L657.55,320.22 L659.04,320.29 L660.54,320.36 L662.04,320.43 L663.53,320.50 L665.03,320.57 L666.52,320.64 L668.02,320.70 L669.52,320.76 L671.01,320.82 L672.51,320.88 L674.00,320.94 L675.50,321.00" fill="none" stroke="#f9c22e" stroke-width="1.95"/>
<line x1="397.1" y1="330.00" x2="675.5" y2="330.00" stroke="#000" stroke-width="2.0" stroke-dasharray="6.9 3.7" stroke-dashoffset="5.7"/>
<rect x="407.70" y="371.70" width="2.6" height="7.6" fill="#000"/>
<rect x="410.50" y="371.70" width="2.6" height="7.6" fill="#000"/>
<rect x="418.90" y="371.70" width="2.6" height="7.6" fill="#000"/>
<rect x="423.90" y="371.70" width="3.6" height="7.6" fill="#000"/>
<rect x="437.70" y="371.70" width="2.6" height="7.6" fill="#000"/>
<rect x="441.20" y="371.70" width="2.6" height="7.6" fill="#000"/>
<rect x="455.25" y="371.70" width="4.5" height="7.6" fill="#000"/>
<rect x="467.20" y="371.70" width="3.0" height="7.6" fill="#000"/>
<rect x="497.70" y="371.70" width="4.0" height="7.6" fill="#000"/>
<rect x="520.80" y="371.70" width="2.8" height="7.6" fill="#000"/>
<rect x="534.00" y="371.70" width="3.0" height="7.6" fill="#000"/>
<rect x="541.60" y="371.70" width="3.0" height="7.6" fill="#000"/>
<circle cx="402.80" cy="329.90" r="3.2" fill="#000000"/>
<circle cx="408.60" cy="329.90" r="3.2" fill="#000000"/>
<circle cx="414.50" cy="330.20" r="3.2" fill="#000000"/>
<circle cx="420.70" cy="328.50" r="3.2" fill="#000000"/>
<circle cx="426.80" cy="324.50" r="3.2" fill="#000000"/>
<circle cx="432.90" cy="321.80" r="3.2" fill="#000000"/>
<circle cx="438.70" cy="340.10" r="3.2" fill="#000000"/>
<circle cx="444.50" cy="344.70" r="3.2" fill="#000000"/>
<circle cx="450.80" cy="344.70" r="3.2" fill="#000000"/>
<circle cx="457.00" cy="342.00" r="3.2" fill="#000000"/>
<circle cx="462.40" cy="332.40" r="3.2" fill="#000000"/>
<circle cx="468.50" cy="334.70" r="3.2" fill="#000000"/>
<circle cx="474.70" cy="342.00" r="3.2" fill="#000000"/>
<circle cx="480.50" cy="346.20" r="3.2" fill="#000000"/>
<circle cx="486.30" cy="339.50" r="3.2" fill="#000000"/>
<circle cx="492.00" cy="340.50" r="3.2" fill="#000000"/>
<circle cx="498.40" cy="334.30" r="3.2" fill="#000000"/>
<circle cx="504.20" cy="334.70" r="3.2" fill="#000000"/>
<circle cx="510.50" cy="338.50" r="3.2" fill="#000000"/>
<circle cx="516.30" cy="324.50" r="3.2" fill="#000000"/>
<circle cx="531.40" cy="338.80" r="2.45" fill="#fff" stroke="#000000" stroke-width="1.25"/>
<circle cx="540.00" cy="311.00" r="2.45" fill="#fff" stroke="#000000" stroke-width="1.25"/>
<circle cx="548.10" cy="323.80" r="2.45" fill="#fff" stroke="#000000" stroke-width="1.25"/>
<circle cx="555.60" cy="323.80" r="2.45" fill="#fff" stroke="#000000" stroke-width="1.25"/>
<circle cx="565.70" cy="326.00" r="2.45" fill="#fff" stroke="#000000" stroke-width="1.25"/>
<circle cx="585.40" cy="327.50" r="2.45" fill="#fff" stroke="#000000" stroke-width="1.25"/>
<circle cx="596.00" cy="324.60" r="2.45" fill="#fff" stroke="#000000" stroke-width="1.25"/>
<circle cx="615.70" cy="339.00" r="2.45" fill="#fff" stroke="#000000" stroke-width="1.25"/>
<circle cx="626.00" cy="333.20" r="2.45" fill="#fff" stroke="#000000" stroke-width="1.25"/>
<circle cx="635.40" cy="324.00" r="2.45" fill="#fff" stroke="#000000" stroke-width="1.25"/>
<circle cx="655.30" cy="348.20" r="2.45" fill="#fff" stroke="#000000" stroke-width="1.25"/>
<circle cx="414.70" cy="318.30" r="3.2" fill="#f9c22e"/>
<circle cx="420.70" cy="320.70" r="3.2" fill="#f9c22e"/>
<circle cx="427.10" cy="301.40" r="3.2" fill="#f9c22e"/>
<circle cx="432.90" cy="298.60" r="3.2" fill="#f9c22e"/>
<circle cx="439.00" cy="305.70" r="3.2" fill="#f9c22e"/>
<circle cx="444.70" cy="287.00" r="3.2" fill="#f9c22e"/>
<circle cx="450.80" cy="296.70" r="3.2" fill="#f9c22e"/>
<circle cx="456.60" cy="299.30" r="3.2" fill="#f9c22e"/>
<circle cx="462.50" cy="250.00" r="3.2" fill="#f9c22e"/>
<circle cx="468.30" cy="277.50" r="3.2" fill="#f9c22e"/>
<circle cx="474.20" cy="270.80" r="3.2" fill="#f9c22e"/>
<circle cx="480.00" cy="275.00" r="3.2" fill="#f9c22e"/>
<circle cx="486.30" cy="268.00" r="3.2" fill="#f9c22e"/>
<circle cx="492.00" cy="275.00" r="3.2" fill="#f9c22e"/>
<circle cx="498.30" cy="276.30" r="3.2" fill="#f9c22e"/>
<circle cx="504.20" cy="258.30" r="3.2" fill="#f9c22e"/>
<circle cx="510.10" cy="290.00" r="3.2" fill="#f9c22e"/>
<circle cx="516.10" cy="271.80" r="3.2" fill="#f9c22e"/>
<circle cx="531.40" cy="303.90" r="2.45" fill="#fff" stroke="#f9c22e" stroke-width="1.25"/>
<circle cx="540.00" cy="285.70" r="2.45" fill="#fff" stroke="#f9c22e" stroke-width="1.25"/>
<circle cx="548.10" cy="289.60" r="2.45" fill="#fff" stroke="#f9c22e" stroke-width="1.25"/>
<circle cx="555.60" cy="291.00" r="2.45" fill="#fff" stroke="#f9c22e" stroke-width="1.25"/>
<circle cx="565.70" cy="314.60" r="2.45" fill="#fff" stroke="#f9c22e" stroke-width="1.25"/>
<circle cx="585.40" cy="308.80" r="2.45" fill="#fff" stroke="#f9c22e" stroke-width="1.25"/>
<circle cx="596.00" cy="305.30" r="2.45" fill="#fff" stroke="#f9c22e" stroke-width="1.25"/>
<circle cx="615.70" cy="300.00" r="2.45" fill="#fff" stroke="#f9c22e" stroke-width="1.25"/>
<circle cx="626.00" cy="318.80" r="2.45" fill="#fff" stroke="#f9c22e" stroke-width="1.25"/>
<circle cx="635.40" cy="317.50" r="2.45" fill="#fff" stroke="#f9c22e" stroke-width="1.25"/>
<circle cx="655.30" cy="322.50" r="2.45" fill="#fff" stroke="#f9c22e" stroke-width="1.25"/>
<circle cx="674.60" cy="318.20" r="2.45" fill="#fff" stroke="#f9c22e" stroke-width="1.25"/>
</g>
<rect x="262.75" y="31.65" width="61.2" height="57.95" fill="#fff" stroke="#000" stroke-width="1.3"/>
<circle cx="269.35" cy="40.4" r="3.4" fill="#4b0c6b"/>
<circle cx="278.65" cy="40.4" r="2.7" fill="#fff" stroke="#4b0c6b" stroke-width="1.4"/>
<circle cx="269.35" cy="59.7" r="3.4" fill="#e35932"/>
<circle cx="278.65" cy="59.7" r="2.7" fill="#fff" stroke="#e35932" stroke-width="1.4"/>
<circle cx="269.35" cy="78.7" r="3.4" fill="#f9c22e"/>
<circle cx="278.65" cy="78.7" r="2.7" fill="#fff" stroke="#f9c22e" stroke-width="1.4"/>
<rect x="520.0" y="31.7" width="150.4" height="42.0" fill="#fff" stroke="#000" stroke-width="1.3"/>
<circle cx="526.8" cy="41.0" r="3.4" fill="#000000"/>
<circle cx="536.3" cy="41.0" r="2.7" fill="#fff" stroke="#000000" stroke-width="1.4"/>
<circle cx="526.8" cy="61.5" r="3.4" fill="#f9c22e"/>
<circle cx="536.3" cy="61.5" r="2.7" fill="#fff" stroke="#f9c22e" stroke-width="1.4"/>
<text transform="translate(299.16,45.42) scale(0.918,1)" font-family="Liberation Sans" font-size="13.33" fill="#000" stroke="#000" stroke-width="0.131">5</text><text transform="translate(310.58,45.55) scale(0.967,1)" font-family="Liberation Sans" font-size="13.52" fill="#000" stroke="#000" stroke-width="0.124">K</text><text transform="translate(292.84,64.40) scale(0.879,1)" font-family="Liberation Sans" font-size="13.52" fill="#000" stroke="#000" stroke-width="0.137">7</text><text transform="translate(299.18,64.27) scale(0.924,1)" font-family="Liberation Sans" font-size="13.14" fill="#000" stroke="#000" stroke-width="0.130">0</text><text transform="translate(310.58,64.40) scale(0.967,1)" font-family="Liberation Sans" font-size="13.52" fill="#000" stroke="#000" stroke-width="0.124">K</text><text transform="translate(285.68,83.25) scale(0.881,1)" font-family="Liberation Sans" font-size="13.52" fill="#000" stroke="#000" stroke-width="0.136">4</text><text transform="translate(292.38,83.25) scale(0.841,1)" font-family="Liberation Sans" font-size="13.52" fill="#000" stroke="#000" stroke-width="0.143">1</text><text transform="translate(299.18,83.12) scale(0.924,1)" font-family="Liberation Sans" font-size="13.14" fill="#000" stroke="#000" stroke-width="0.130">0</text><text transform="translate(310.58,83.25) scale(0.967,1)" font-family="Liberation Sans" font-size="13.52" fill="#000" stroke="#000" stroke-width="0.124">K</text>
<g transform="translate(0,0)"><text transform="translate(544.82,47.12) scale(0.935,1)" font-family="Liberation Serif" font-style="italic" font-size="15.63" fill="#000" stroke="#000" stroke-width="0.128">χ</text><text transform="translate(551.96,49.26) scale(1.070,1)" font-family="Liberation Serif" font-size="9.48" fill="#000" stroke="#000" stroke-width="0.112">0</text><text transform="translate(558.13,47.63) scale(0.850,1)" font-family="Liberation Sans" font-size="15.56" fill="#000" stroke="#000" stroke-width="0.141">(</text><text transform="translate(562.81,45.82) scale(1.047,1)" font-family="Liberation Sans" font-size="12.90" fill="#000" stroke="#000" stroke-width="0.115">5</text><text transform="translate(572.96,45.95) scale(1.199,1)" font-family="Liberation Sans" font-size="13.08" fill="#000" stroke="#000" stroke-width="0.100">K</text><text transform="translate(584.22,47.63) scale(0.850,1)" font-family="Liberation Sans" font-size="15.56" fill="#000" stroke="#000" stroke-width="0.141">)</text><text transform="translate(608.02,47.12) scale(0.935,1)" font-family="Liberation Serif" font-style="italic" font-size="15.63" fill="#000" stroke="#000" stroke-width="0.128">χ</text><text transform="translate(614.84,49.26) scale(1.144,1)" font-family="Liberation Serif" font-size="9.48" fill="#000" stroke="#000" stroke-width="0.105">0</text><text transform="translate(627.26,45.95) scale(1.026,1)" font-family="Liberation Sans" font-size="13.08" fill="#000" stroke="#000" stroke-width="0.117">7</text><text transform="translate(634.20,45.83) scale(0.905,1)" font-family="Liberation Sans" font-size="12.71" fill="#000" stroke="#000" stroke-width="0.133">0</text><text transform="translate(644.93,45.95) scale(1.039,1)" font-family="Liberation Sans" font-size="13.08" fill="#000" stroke="#000" stroke-width="0.115">K</text><text transform="translate(655.27,47.63) scale(0.850,1)" font-family="Liberation Sans" font-size="15.56" fill="#000" stroke="#000" stroke-width="0.141">)</text><text transform="translate(621.73,47.63) scale(0.850,1)" font-family="Liberation Sans" font-size="15.56" fill="#000" stroke="#000" stroke-width="0.141">(</text><path d="M553.62,36.29L551.87,41.30L552.33,41.50L554.98,36.91Z" fill="#000"/><path d="M556.82,36.29L555.07,41.30L555.53,41.50L558.18,36.91Z" fill="#000"/><path d="M616.52,36.29L614.77,41.30L615.23,41.50L617.88,36.91Z" fill="#000"/><path d="M619.72,36.29L617.97,41.30L618.43,41.50L621.08,36.91Z" fill="#000"/><path d="M594.00,42.30L602.00,42.30" stroke="#000" stroke-width="0.9" stroke-linecap="butt" fill="none"/></g><g transform="translate(0,20.2)"><text transform="translate(544.82,47.12) scale(0.935,1)" font-family="Liberation Serif" font-style="italic" font-size="15.63" fill="#000" stroke="#000" stroke-width="0.128">χ</text><text transform="translate(551.96,49.26) scale(1.070,1)" font-family="Liberation Serif" font-size="9.48" fill="#000" stroke="#000" stroke-width="0.112">0</text><text transform="translate(558.13,47.63) scale(0.850,1)" font-family="Liberation Sans" font-size="15.56" fill="#000" stroke="#000" stroke-width="0.141">(</text><text transform="translate(562.81,45.82) scale(1.047,1)" font-family="Liberation Sans" font-size="12.90" fill="#000" stroke="#000" stroke-width="0.115">5</text><text transform="translate(572.96,45.95) scale(1.199,1)" font-family="Liberation Sans" font-size="13.08" fill="#000" stroke="#000" stroke-width="0.100">K</text><text transform="translate(584.22,47.63) scale(0.850,1)" font-family="Liberation Sans" font-size="15.56" fill="#000" stroke="#000" stroke-width="0.141">)</text><text transform="translate(608.02,47.12) scale(0.935,1)" font-family="Liberation Serif" font-style="italic" font-size="15.63" fill="#000" stroke="#000" stroke-width="0.128">χ</text><text transform="translate(614.84,49.26) scale(1.144,1)" font-family="Liberation Serif" font-size="9.48" fill="#000" stroke="#000" stroke-width="0.105">0</text><text transform="translate(626.99,45.95) scale(0.850,1)" font-family="Liberation Sans" font-size="13.08" fill="#000" stroke="#000" stroke-width="0.141">4</text><text transform="translate(633.79,45.95) scale(0.762,1)" font-family="Liberation Sans" font-size="13.08" fill="#000" stroke="#000" stroke-width="0.157">1</text><text transform="translate(640.90,45.83) scale(0.905,1)" font-family="Liberation Sans" font-size="12.71" fill="#000" stroke="#000" stroke-width="0.133">0</text><text transform="translate(652.72,45.95) scale(0.959,1)" font-family="Liberation Sans" font-size="13.08" fill="#000" stroke="#000" stroke-width="0.125">K</text><text transform="translate(662.17,47.63) scale(0.850,1)" font-family="Liberation Sans" font-size="15.56" fill="#000" stroke="#000" stroke-width="0.141">)</text><text transform="translate(622.03,47.63) scale(0.850,1)" font-family="Liberation Sans" font-size="15.56" fill="#000" stroke="#000" stroke-width="0.141">(</text><path d="M553.62,36.29L551.87,41.30L552.33,41.50L554.98,36.91Z" fill="#000"/><path d="M556.82,36.29L555.07,41.30L555.53,41.50L558.18,36.91Z" fill="#000"/><path d="M616.52,36.29L614.77,41.30L615.23,41.50L617.88,36.91Z" fill="#000"/><path d="M619.72,36.29L617.97,41.30L618.43,41.50L621.08,36.91Z" fill="#000"/><path d="M594.00,42.30L602.00,42.30" stroke="#000" stroke-width="0.9" stroke-linecap="butt" fill="none"/></g>
<g transform="translate(0,0)"><text transform="rotate(-90) translate(-159.64,11.33) scale(1.108,1)" font-family="Liberation Serif" font-style="italic" font-size="13.69" stroke="#000" stroke-width="0.108">χ</text><text transform="rotate(-90) translate(-152.73,14.85) scale(1.259,1)" font-family="Liberation Serif" font-size="9.93" stroke="#000" stroke-width="0.095">0</text><text transform="rotate(-90) translate(-139.85,11.88) scale(0.866,1)" font-family="Liberation Sans" font-size="14.81" stroke="#000" stroke-width="0.139">(</text><text transform="rotate(-90) translate(-135.14,11.18) scale(1.194,1)" font-family="Liberation Serif" font-style="italic" font-size="12.48" stroke="#000" stroke-width="0.101">μ</text><text transform="rotate(-90) translate(-128.08,5.55) scale(1.500,1)" font-family="Liberation Serif" font-size="8.00" stroke="#000" stroke-width="0.080">2</text><text transform="rotate(-90) translate(-126.67,14.92) scale(1.333,1)" font-family="Liberation Serif" font-style="italic" font-size="9.58" stroke="#000" stroke-width="0.090">B</text><text transform="rotate(-90) translate(-113.64,10.94) scale(1.051,1)" font-family="Liberation Sans" font-size="10.95" stroke="#000" stroke-width="0.114">e</text><text transform="rotate(-90) translate(-107.00,11.05) scale(0.920,1)" font-family="Liberation Sans" font-size="13.37" stroke="#000" stroke-width="0.130">V</text><text transform="rotate(-90) translate(-89.24,6.45) scale(0.784,1)" font-family="Liberation Sans" font-size="8.29" stroke="#000" stroke-width="0.153">1</text><text transform="rotate(-90) translate(-79.27,11.05) scale(1.166,1)" font-family="Liberation Sans" font-size="13.27" stroke="#000" stroke-width="0.103">f</text><text transform="rotate(-90) translate(-71.75,11.24) scale(1.267,1)" font-family="Liberation Sans" font-size="10.96" stroke="#000" stroke-width="0.095">u</text><text transform="rotate(-90) translate(-51.60,6.45) scale(0.868,1)" font-family="Liberation Sans" font-size="8.29" stroke="#000" stroke-width="0.138">1</text><text transform="rotate(-90) translate(-45.43,11.88) scale(0.891,1)" font-family="Liberation Sans" font-size="14.81" stroke="#000" stroke-width="0.135">)</text><path d="M1.01,146.94L5.27,148.91L5.53,148.49L1.79,145.66Z" fill="#000"/><path d="M1.01,150.14L5.27,152.11L5.53,151.69L1.79,148.86Z" fill="#000"/><circle cx="10.4" cy="73.4" r="0.75" fill="#000"/><circle cx="10.4" cy="62.7" r="0.75" fill="#000"/><path d="M3.60,90.90L3.60,97.40" stroke="#000" stroke-width="0.9" stroke-linecap="butt" fill="none"/><path d="M3.90,53.40L3.90,59.90" stroke="#000" stroke-width="0.9" stroke-linecap="butt" fill="none"/></g><g transform="translate(346.4,-5.5)"><text transform="rotate(-90) translate(-159.64,11.33) scale(1.108,1)" font-family="Liberation Serif" font-style="italic" font-size="13.69" stroke="#000" stroke-width="0.108">χ</text><text transform="rotate(-90) translate(-152.73,14.85) scale(1.259,1)" font-family="Liberation Serif" font-size="9.93" stroke="#000" stroke-width="0.095">0</text><text transform="rotate(-90) translate(-139.85,11.88) scale(0.866,1)" font-family="Liberation Sans" font-size="14.81" stroke="#000" stroke-width="0.139">(</text><text transform="rotate(-90) translate(-135.14,11.18) scale(1.194,1)" font-family="Liberation Serif" font-style="italic" font-size="12.48" stroke="#000" stroke-width="0.101">μ</text><text transform="rotate(-90) translate(-128.08,5.55) scale(1.500,1)" font-family="Liberation Serif" font-size="8.00" stroke="#000" stroke-width="0.080">2</text><text transform="rotate(-90) translate(-126.67,14.92) scale(1.333,1)" font-family="Liberation Serif" font-style="italic" font-size="9.58" stroke="#000" stroke-width="0.090">B</text><text transform="rotate(-90) translate(-113.64,10.94) scale(1.051,1)" font-family="Liberation Sans" font-size="10.95" stroke="#000" stroke-width="0.114">e</text><text transform="rotate(-90) translate(-107.00,11.05) scale(0.920,1)" font-family="Liberation Sans" font-size="13.37" stroke="#000" stroke-width="0.130">V</text><text transform="rotate(-90) translate(-89.24,6.45) scale(0.784,1)" font-family="Liberation Sans" font-size="8.29" stroke="#000" stroke-width="0.153">1</text><text transform="rotate(-90) translate(-79.27,11.05) scale(1.166,1)" font-family="Liberation Sans" font-size="13.27" stroke="#000" stroke-width="0.103">f</text><text transform="rotate(-90) translate(-71.75,11.24) scale(1.267,1)" font-family="Liberation Sans" font-size="10.96" stroke="#000" stroke-width="0.095">u</text><text transform="rotate(-90) translate(-51.60,6.45) scale(0.868,1)" font-family="Liberation Sans" font-size="8.29" stroke="#000" stroke-width="0.138">1</text><text transform="rotate(-90) translate(-45.43,11.88) scale(0.891,1)" font-family="Liberation Sans" font-size="14.81" stroke="#000" stroke-width="0.135">)</text><text transform="rotate(-90) translate(-171.02,11.45) scale(1.132,1)" font-family="Liberation Sans" font-size="13.95" stroke="#000" stroke-width="0.106">Δ</text><path d="M1.01,146.94L5.27,148.91L5.53,148.49L1.79,145.66Z" fill="#000"/><path d="M1.01,150.14L5.27,152.11L5.53,151.69L1.79,148.86Z" fill="#000"/><circle cx="10.4" cy="73.4" r="0.75" fill="#000"/><circle cx="10.4" cy="62.7" r="0.75" fill="#000"/><path d="M3.60,90.90L3.60,97.40" stroke="#000" stroke-width="0.9" stroke-linecap="butt" fill="none"/><path d="M3.90,53.40L3.90,59.90" stroke="#000" stroke-width="0.9" stroke-linecap="butt" fill="none"/></g><g transform="translate(12.8,201.5)"><text transform="rotate(-90) translate(-165.74,12.01) scale(1.062,1)" font-family="Liberation Serif" font-style="italic" font-size="14.29" stroke="#000" stroke-width="0.113">χ</text><text transform="rotate(-90) translate(-158.16,14.65) scale(0.716,1)" font-family="Liberation Serif" font-size="7.64" stroke="#000" stroke-width="0.168">l</text><text transform="rotate(-90) translate(-156.76,14.97) scale(1.338,1)" font-family="Liberation Serif" font-size="8.11" stroke="#000" stroke-width="0.090">o</text><text transform="rotate(-90) translate(-150.71,14.97) scale(1.500,1)" font-family="Liberation Serif" font-size="8.11" stroke="#000" stroke-width="0.080">c</text><text transform="rotate(-90) translate(-139.85,11.88) scale(0.866,1)" font-family="Liberation Sans" font-size="14.81" stroke="#000" stroke-width="0.139">(</text><text transform="rotate(-90) translate(-135.14,11.18) scale(1.194,1)" font-family="Liberation Serif" font-style="italic" font-size="12.48" stroke="#000" stroke-width="0.101">μ</text><text transform="rotate(-90) translate(-128.08,5.55) scale(1.500,1)" font-family="Liberation Serif" font-size="8.00" stroke="#000" stroke-width="0.080">2</text><text transform="rotate(-90) translate(-126.67,14.92) scale(1.333,1)" font-family="Liberation Serif" font-style="italic" font-size="9.58" stroke="#000" stroke-width="0.090">B</text><text transform="rotate(-90) translate(-113.64,10.94) scale(1.051,1)" font-family="Liberation Sans" font-size="10.95" stroke="#000" stroke-width="0.114">e</text><text transform="rotate(-90) translate(-107.00,11.05) scale(0.920,1)" font-family="Liberation Sans" font-size="13.37" stroke="#000" stroke-width="0.130">V</text><text transform="rotate(-90) translate(-89.24,6.45) scale(0.784,1)" font-family="Liberation Sans" font-size="8.29" stroke="#000" stroke-width="0.153">1</text><text transform="rotate(-90) translate(-79.27,11.05) scale(1.166,1)" font-family="Liberation Sans" font-size="13.27" stroke="#000" stroke-width="0.103">f</text><text transform="rotate(-90) translate(-71.75,11.24) scale(1.267,1)" font-family="Liberation Sans" font-size="10.96" stroke="#000" stroke-width="0.095">u</text><text transform="rotate(-90) translate(-51.60,6.45) scale(0.868,1)" font-family="Liberation Sans" font-size="8.29" stroke="#000" stroke-width="0.138">1</text><text transform="rotate(-90) translate(-45.43,11.88) scale(0.891,1)" font-family="Liberation Sans" font-size="14.81" stroke="#000" stroke-width="0.135">)</text><path d="M1.40,153.43L6.07,155.81L6.33,155.39L2.20,152.17Z" fill="#000"/><path d="M1.41,156.74L6.07,159.01L6.33,158.59L2.19,155.46Z" fill="#000"/><circle cx="10.4" cy="73.4" r="0.75" fill="#000"/><circle cx="10.4" cy="62.7" r="0.75" fill="#000"/><path d="M3.60,90.90L3.60,97.40" stroke="#000" stroke-width="0.9" stroke-linecap="butt" fill="none"/><path d="M3.90,53.40L3.90,59.90" stroke="#000" stroke-width="0.9" stroke-linecap="butt" fill="none"/></g><g transform="translate(355.0,195.5)"><text transform="rotate(-90) translate(-165.74,12.01) scale(1.062,1)" font-family="Liberation Serif" font-style="italic" font-size="14.29" stroke="#000" stroke-width="0.113">χ</text><text transform="rotate(-90) translate(-158.16,14.65) scale(0.716,1)" font-family="Liberation Serif" font-size="7.64" stroke="#000" stroke-width="0.168">l</text><text transform="rotate(-90) translate(-156.76,14.97) scale(1.338,1)" font-family="Liberation Serif" font-size="8.11" stroke="#000" stroke-width="0.090">o</text><text transform="rotate(-90) translate(-150.71,14.97) scale(1.500,1)" font-family="Liberation Serif" font-size="8.11" stroke="#000" stroke-width="0.080">c</text><text transform="rotate(-90) translate(-139.85,11.88) scale(0.866,1)" font-family="Liberation Sans" font-size="14.81" stroke="#000" stroke-width="0.139">(</text><text transform="rotate(-90) translate(-135.14,11.18) scale(1.194,1)" font-family="Liberation Serif" font-style="italic" font-size="12.48" stroke="#000" stroke-width="0.101">μ</text><text transform="rotate(-90) translate(-128.08,5.55) scale(1.500,1)" font-family="Liberation Serif" font-size="8.00" stroke="#000" stroke-width="0.080">2</text><text transform="rotate(-90) translate(-126.67,14.92) scale(1.333,1)" font-family="Liberation Serif" font-style="italic" font-size="9.58" stroke="#000" stroke-width="0.090">B</text><text transform="rotate(-90) translate(-113.64,10.94) scale(1.051,1)" font-family="Liberation Sans" font-size="10.95" stroke="#000" stroke-width="0.114">e</text><text transform="rotate(-90) translate(-107.00,11.05) scale(0.920,1)" font-family="Liberation Sans" font-size="13.37" stroke="#000" stroke-width="0.130">V</text><text transform="rotate(-90) translate(-89.24,6.45) scale(0.784,1)" font-family="Liberation Sans" font-size="8.29" stroke="#000" stroke-width="0.153">1</text><text transform="rotate(-90) translate(-79.27,11.05) scale(1.166,1)" font-family="Liberation Sans" font-size="13.27" stroke="#000" stroke-width="0.103">f</text><text transform="rotate(-90) translate(-71.75,11.24) scale(1.267,1)" font-family="Liberation Sans" font-size="10.96" stroke="#000" stroke-width="0.095">u</text><text transform="rotate(-90) translate(-51.60,6.45) scale(0.868,1)" font-family="Liberation Sans" font-size="8.29" stroke="#000" stroke-width="0.138">1</text><text transform="rotate(-90) translate(-45.43,11.88) scale(0.891,1)" font-family="Liberation Sans" font-size="14.81" stroke="#000" stroke-width="0.135">)</text><text transform="rotate(-90) translate(-179.02,11.45) scale(1.120,1)" font-family="Liberation Sans" font-size="13.95" stroke="#000" stroke-width="0.107">Δ</text><path d="M1.40,153.43L6.07,155.81L6.33,155.39L2.20,152.17Z" fill="#000"/><path d="M1.41,156.74L6.07,159.01L6.33,158.59L2.19,155.46Z" fill="#000"/><circle cx="10.4" cy="73.4" r="0.75" fill="#000"/><circle cx="10.4" cy="62.7" r="0.75" fill="#000"/><path d="M3.60,90.90L3.60,97.40" stroke="#000" stroke-width="0.9" stroke-linecap="butt" fill="none"/><path d="M3.90,53.40L3.90,59.90" stroke="#000" stroke-width="0.9" stroke-linecap="butt" fill="none"/></g>
<text transform="translate(19.93,9.69) scale(0.866,1)" font-family="Liberation Sans" font-size="15.24" fill="#000" stroke="#000" stroke-width="0.139">(</text><text transform="translate(31.77,9.69) scale(0.940,1)" font-family="Liberation Sans" font-size="15.24" fill="#000" stroke="#000" stroke-width="0.128">)</text><text transform="translate(24.77,9.53) scale(0.732,1)" font-family="Liberation Sans" font-size="12.23" fill="#000" stroke="#000" stroke-width="0.164">a</text><text transform="translate(365.83,9.69) scale(0.866,1)" font-family="Liberation Sans" font-size="15.24" fill="#000" stroke="#000" stroke-width="0.139">(</text><text transform="translate(378.76,9.69) scale(0.965,1)" font-family="Liberation Sans" font-size="15.24" fill="#000" stroke="#000" stroke-width="0.124">)</text><text transform="translate(371.10,9.52) scale(0.973,1)" font-family="Liberation Sans" font-size="13.48" fill="#000" stroke="#000" stroke-width="0.123">b</text><text transform="translate(19.93,214.99) scale(0.866,1)" font-family="Liberation Sans" font-size="15.24" fill="#000" stroke="#000" stroke-width="0.139">(</text><text transform="translate(31.77,214.99) scale(0.940,1)" font-family="Liberation Sans" font-size="15.24" fill="#000" stroke="#000" stroke-width="0.128">)</text><text transform="translate(25.23,214.83) scale(1.005,1)" font-family="Liberation Sans" font-size="12.23" fill="#000" stroke="#000" stroke-width="0.119">c</text><text transform="translate(366.03,214.99) scale(0.866,1)" font-family="Liberation Sans" font-size="15.24" fill="#000" stroke="#000" stroke-width="0.139">(</text><text transform="translate(378.96,214.99) scale(0.965,1)" font-family="Liberation Sans" font-size="15.24" fill="#000" stroke="#000" stroke-width="0.124">)</text><text transform="translate(370.93,214.82) scale(0.924,1)" font-family="Liberation Sans" font-size="13.48" fill="#000" stroke="#000" stroke-width="0.130">d</text>
<text transform="translate(163.46,416.72) scale(1.077,1)" font-family="Liberation Serif" font-style="italic" font-size="13.58" fill="#000" stroke="#000" stroke-width="0.111">ω</text><text transform="translate(178.15,417.34) scale(0.853,1)" font-family="Liberation Sans" font-size="15.03" fill="#000" stroke="#000" stroke-width="0.141">(</text><text transform="translate(182.89,416.85) scale(1.075,1)" font-family="Liberation Sans" font-size="12.08" fill="#000" stroke="#000" stroke-width="0.112">m</text><text transform="translate(193.34,416.73) scale(1.006,1)" font-family="Liberation Sans" font-size="11.86" fill="#000" stroke="#000" stroke-width="0.119">e</text><text transform="translate(200.40,416.85) scale(0.902,1)" font-family="Liberation Sans" font-size="13.81" fill="#000" stroke="#000" stroke-width="0.133">V</text><text transform="translate(209.97,417.34) scale(0.853,1)" font-family="Liberation Sans" font-size="15.03" fill="#000" stroke="#000" stroke-width="0.141">)</text><text transform="translate(510.46,416.72) scale(1.077,1)" font-family="Liberation Serif" font-style="italic" font-size="13.58" fill="#000" stroke="#000" stroke-width="0.111">ω</text><text transform="translate(525.15,417.34) scale(0.853,1)" font-family="Liberation Sans" font-size="15.03" fill="#000" stroke="#000" stroke-width="0.141">(</text><text transform="translate(529.89,416.85) scale(1.075,1)" font-family="Liberation Sans" font-size="12.08" fill="#000" stroke="#000" stroke-width="0.112">m</text><text transform="translate(540.34,416.73) scale(1.006,1)" font-family="Liberation Sans" font-size="11.86" fill="#000" stroke="#000" stroke-width="0.119">e</text><text transform="translate(547.40,416.85) scale(0.902,1)" font-family="Liberation Sans" font-size="13.81" fill="#000" stroke="#000" stroke-width="0.133">V</text><text transform="translate(556.97,417.34) scale(0.853,1)" font-family="Liberation Sans" font-size="15.03" fill="#000" stroke="#000" stroke-width="0.141">)</text>
<rect x="50.20" y="27.05" width="278.35" height="147.85" fill="none" stroke="#000" stroke-width="1.3"/>
<rect x="397.10" y="27.00" width="278.40" height="147.80" fill="none" stroke="#000" stroke-width="1.3"/>
<rect x="50.20" y="231.40" width="278.20" height="147.90" fill="none" stroke="#000" stroke-width="1.3"/>
<rect x="397.10" y="231.40" width="278.40" height="147.90" fill="none" stroke="#000" stroke-width="1.3"/>
</svg></div></body></html>
